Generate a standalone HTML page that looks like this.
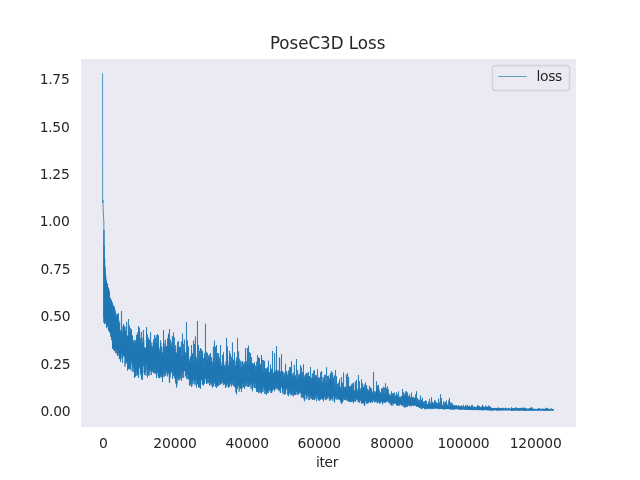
<!DOCTYPE html>
<html lang="en">
<head>
<meta charset="utf-8">
<title>PoseC3D Loss</title>
<style>
html,body{margin:0;padding:0;background:#fff;}
body{width:640px;height:480px;overflow:hidden;}
svg{display:block;}
svg text{font-family:"DejaVu Sans","Liberation Sans",sans-serif;font-size:13.889px;fill:#262626;}
</style>
</head>
<body>
<svg width="640" height="480" viewBox="0 0 640 480">
<rect x="0" y="0" width="640" height="480" fill="#ffffff"/>
<rect x="81" y="59" width="495" height="368" fill="#eaeaf2"/>
<g>
<text x="103.43" y="448.3" text-anchor="middle" letter-spacing="-0.15">0</text>
<text x="175.04" y="448.3" text-anchor="middle" letter-spacing="-0.15">20000</text>
<text x="247.27" y="448.3" text-anchor="middle" letter-spacing="-0.15">40000</text>
<text x="319.28" y="448.3" text-anchor="middle" letter-spacing="-0.15">60000</text>
<text x="392.02" y="448.3" text-anchor="middle" letter-spacing="-0.15">80000</text>
<text x="463.47" y="448.3" text-anchor="middle" letter-spacing="-0.15">100000</text>
<text x="535.68" y="448.3" text-anchor="middle" letter-spacing="-0.15">120000</text>
<text x="70.30" y="415.68" text-anchor="end" letter-spacing="-0.3">0.00</text>
<text x="70.30" y="369.33" text-anchor="end" letter-spacing="-0.3">0.25</text>
<text x="70.30" y="320.98" text-anchor="end" letter-spacing="-0.3">0.50</text>
<text x="70.30" y="273.63" text-anchor="end" letter-spacing="-0.3">0.75</text>
<text x="69.45" y="226.28" text-anchor="end" letter-spacing="-0.3">1.00</text>
<text x="69.45" y="178.93" text-anchor="end" letter-spacing="-0.3">1.25</text>
<text x="69.45" y="131.58" text-anchor="end" letter-spacing="-0.3">1.50</text>
<text x="69.45" y="84.23" text-anchor="end" letter-spacing="-0.3">1.75</text>
<text x="327.1" y="467.4" text-anchor="middle" letter-spacing="-0.3">iter</text>
</g>
<clipPath id="ax"><rect x="81" y="59" width="495" height="368"/></clipPath>
<path clip-path="url(#ax)" d="M102.55 73.70 L102.65 201.60 L102.95 200.40 L102.70 202.60 L103.00 201.20 L102.95 202.80 L103.35 214.00 L103.85 222.00 L103.90 318.00 L103.97 230.00 L104.05 322.68 L104.14 245.75 L104.23 322.37 L104.32 257.66 L104.41 311.50 L104.50 324.00 L104.59 322.27 L104.68 258.61 L104.77 320.89 L104.86 267.61 L104.95 323.46 L105.04 266.82 L105.13 323.51 L105.22 274.67 L105.31 316.20 L105.40 274.91 L105.49 320.53 L105.58 277.50 L105.67 319.91 L105.76 276.23 L105.85 321.10 L105.94 283.61 L106.03 321.60 L106.12 280.32 L106.21 317.56 L106.30 281.28 L106.39 324.52 L106.48 328.00 L106.57 323.19 L106.66 287.02 L106.75 323.00 L106.84 283.08 L106.93 321.19 L107.02 286.33 L107.11 326.99 L107.20 286.99 L107.29 325.00 L107.38 284.31 L107.47 320.40 L107.56 283.84 L107.65 325.20 L107.74 288.88 L107.83 321.44 L107.92 290.88 L108.01 324.49 L108.10 288.95 L108.19 326.09 L108.28 291.80 L108.37 329.07 L108.46 287.58 L108.55 330.84 L108.64 288.42 L108.73 328.58 L108.82 291.15 L108.91 323.47 L109.00 290.84 L109.09 330.50 L109.18 296.77 L109.27 328.87 L109.36 291.73 L109.45 326.94 L109.54 332.50 L109.63 328.01 L109.72 297.15 L109.81 329.42 L109.90 298.36 L109.99 332.19 L110.08 299.22 L110.17 328.35 L110.26 300.59 L110.35 329.39 L110.44 298.49 L110.53 329.98 L110.62 300.91 L110.71 336.63 L110.80 300.78 L110.89 332.50 L110.98 304.06 L111.07 331.99 L111.16 301.29 L111.25 333.07 L111.34 299.77 L111.43 335.53 L111.52 340.00 L111.61 333.26 L111.70 307.15 L111.79 335.43 L111.88 306.57 L111.97 337.10 L112.06 306.58 L112.15 337.07 L112.24 302.54 L112.33 342.07 L112.42 302.69 L112.51 348.75 L112.60 310.17 L112.69 342.46 L112.78 311.18 L112.87 342.20 L112.96 311.78 L113.05 348.29 L113.14 304.89 L113.23 342.97 L113.32 312.28 L113.41 347.05 L113.50 311.86 L113.59 342.36 L113.68 306.39 L113.77 349.43 L113.86 306.31 L113.95 348.84 L114.04 310.86 L114.13 350.84 L114.22 310.88 L114.31 344.11 L114.40 309.41 L114.49 350.99 L114.58 307.67 L114.67 347.74 L114.76 309.92 L114.85 343.52 L114.94 310.76 L115.03 350.89 L115.12 311.40 L115.21 348.06 L115.30 317.20 L115.39 344.74 L115.48 353.00 L115.57 343.91 L115.66 317.30 L115.75 351.53 L115.84 320.74 L115.93 348.57 L116.02 318.70 L116.11 353.21 L116.20 317.57 L116.29 348.64 L116.38 321.78 L116.47 344.93 L116.56 314.10 L116.65 346.89 L116.74 316.48 L116.83 348.90 L116.92 315.99 L117.01 348.74 L117.10 321.91 L117.19 347.80 L117.28 324.76 L117.37 354.56 L117.46 315.55 L117.55 355.57 L117.64 314.30 L117.73 351.61 L117.82 324.82 L117.91 355.95 L118.00 326.21 L118.09 348.78 L118.18 328.93 L118.27 351.68 L118.36 313.08 L118.45 351.67 L118.54 326.95 L118.63 353.70 L118.72 320.24 L118.81 349.68 L118.90 324.85 L118.99 352.75 L119.08 327.45 L119.17 349.60 L119.26 328.36 L119.35 359.17 L119.44 330.15 L119.53 351.62 L119.62 322.38 L119.71 358.01 L119.80 333.06 L119.89 351.97 L119.98 333.78 L120.07 354.53 L120.16 334.85 L120.25 357.41 L120.34 332.42 L120.43 353.62 L120.52 362.00 L120.61 356.00 L120.70 329.97 L120.79 359.48 L120.88 331.65 L120.97 358.40 L121.06 332.29 L121.15 351.83 L121.24 335.68 L121.33 353.93 L121.42 314.04 L121.51 311.00 L121.60 315.60 L121.69 351.17 L121.78 337.06 L121.87 351.78 L121.96 334.25 L122.05 352.72 L122.14 331.93 L122.23 350.95 L122.32 332.68 L122.41 353.80 L122.50 363.00 L122.59 362.81 L122.68 336.99 L122.77 354.38 L122.86 326.61 L122.95 355.35 L123.04 337.72 L123.13 356.58 L123.22 338.37 L123.31 351.67 L123.40 330.11 L123.49 355.57 L123.58 324.00 L123.67 356.04 L123.76 337.58 L123.85 354.82 L123.94 338.37 L124.03 352.71 L124.12 328.96 L124.21 354.01 L124.30 327.77 L124.39 355.52 L124.48 325.99 L124.57 352.64 L124.66 332.44 L124.75 355.91 L124.84 334.62 L124.93 366.68 L125.02 326.96 L125.11 356.97 L125.20 335.38 L125.29 356.01 L125.38 341.23 L125.47 363.39 L125.56 330.44 L125.65 354.60 L125.74 341.78 L125.83 360.27 L125.92 340.33 L126.01 356.59 L126.10 336.65 L126.19 359.87 L126.28 340.12 L126.37 356.50 L126.46 338.01 L126.55 358.87 L126.64 321.92 L126.73 363.00 L126.82 341.62 L126.91 362.09 L127.00 337.05 L127.09 357.44 L127.18 343.08 L127.27 364.32 L127.36 335.49 L127.45 359.19 L127.54 370.60 L127.63 364.96 L127.72 341.12 L127.81 364.57 L127.90 340.44 L127.99 357.21 L128.08 338.60 L128.17 358.07 L128.26 338.51 L128.35 368.00 L128.44 321.13 L128.53 319.00 L128.62 322.78 L128.71 369.39 L128.80 334.55 L128.89 360.31 L128.98 344.22 L129.07 366.77 L129.16 342.44 L129.25 367.99 L129.34 333.35 L129.43 359.41 L129.52 325.75 L129.61 368.84 L129.70 337.42 L129.79 356.75 L129.88 343.09 L129.97 356.50 L130.06 342.33 L130.15 367.26 L130.24 342.22 L130.33 358.38 L130.42 328.24 L130.51 370.00 L130.60 344.23 L130.69 358.32 L130.78 332.22 L130.87 362.14 L130.96 336.05 L131.05 360.97 L131.14 342.25 L131.23 362.08 L131.32 343.67 L131.41 360.99 L131.50 329.39 L131.59 361.58 L131.68 343.12 L131.77 363.16 L131.86 342.48 L131.95 360.04 L132.04 345.36 L132.13 371.26 L132.22 335.65 L132.31 364.20 L132.40 335.68 L132.49 362.84 L132.58 341.98 L132.67 363.15 L132.76 342.99 L132.85 364.05 L132.94 346.85 L133.03 362.52 L133.12 341.88 L133.21 372.13 L133.30 343.02 L133.39 367.35 L133.48 345.85 L133.57 363.99 L133.66 346.54 L133.75 366.23 L133.84 347.16 L133.93 363.69 L134.02 340.34 L134.11 367.67 L134.20 339.82 L134.29 365.35 L134.38 346.50 L134.47 378.00 L134.56 346.35 L134.65 365.83 L134.74 345.50 L134.83 364.55 L134.92 347.53 L135.01 364.79 L135.10 344.79 L135.19 370.72 L135.28 348.80 L135.37 376.87 L135.46 341.88 L135.55 371.79 L135.64 340.40 L135.73 367.08 L135.82 347.91 L135.91 375.62 L136.00 346.72 L136.09 365.98 L136.18 343.31 L136.27 371.42 L136.36 346.62 L136.45 366.98 L136.54 341.61 L136.63 367.13 L136.72 335.07 L136.81 366.12 L136.90 348.74 L136.99 375.84 L137.08 334.84 L137.17 368.06 L137.26 349.23 L137.35 369.32 L137.44 349.21 L137.53 369.21 L137.62 332.53 L137.71 374.60 L137.80 347.73 L137.89 374.15 L137.98 344.40 L138.07 366.83 L138.16 348.19 L138.25 367.49 L138.34 349.93 L138.43 366.49 L138.52 326.00 L138.61 378.00 L138.70 349.35 L138.79 365.98 L138.88 340.10 L138.97 365.40 L139.06 346.78 L139.15 365.88 L139.24 347.27 L139.33 368.34 L139.42 327.71 L139.51 366.02 L139.60 330.88 L139.69 363.97 L139.78 337.57 L139.87 365.92 L139.96 338.51 L140.05 366.79 L140.14 350.11 L140.23 364.29 L140.32 351.14 L140.41 373.15 L140.50 351.14 L140.59 370.38 L140.68 346.55 L140.77 369.06 L140.86 341.88 L140.95 375.06 L141.04 338.64 L141.13 367.79 L141.22 348.92 L141.31 375.19 L141.40 332.11 L141.49 371.07 L141.58 349.65 L141.67 379.51 L141.76 348.58 L141.85 373.43 L141.94 349.45 L142.03 369.12 L142.12 343.99 L142.21 377.78 L142.30 342.64 L142.39 379.47 L142.48 380.00 L142.57 377.22 L142.66 350.49 L142.75 364.86 L142.84 346.13 L142.93 364.51 L143.02 338.00 L143.11 365.17 L143.20 349.27 L143.29 366.25 L143.38 330.03 L143.47 364.76 L143.56 336.70 L143.65 364.32 L143.74 340.24 L143.83 365.88 L143.92 348.02 L144.01 363.59 L144.10 347.11 L144.19 372.93 L144.28 347.84 L144.37 368.90 L144.46 375.00 L144.55 365.61 L144.64 348.28 L144.73 364.23 L144.82 347.53 L144.91 364.26 L145.00 348.13 L145.09 372.67 L145.18 350.94 L145.27 366.25 L145.36 347.87 L145.45 371.52 L145.54 351.13 L145.63 363.57 L145.72 348.10 L145.81 364.57 L145.90 348.80 L145.99 375.62 L146.08 348.61 L146.17 363.92 L146.26 347.97 L146.35 363.78 L146.44 349.56 L146.53 327.00 L146.62 352.36 L146.71 363.87 L146.80 339.63 L146.89 366.45 L146.98 349.10 L147.07 364.22 L147.16 348.33 L147.25 370.16 L147.34 334.25 L147.43 365.60 L147.52 377.50 L147.61 370.72 L147.70 349.30 L147.79 367.95 L147.88 348.56 L147.97 373.56 L148.06 341.15 L148.15 364.53 L148.24 352.76 L148.33 375.55 L148.42 337.59 L148.51 364.27 L148.60 352.70 L148.69 371.68 L148.78 340.86 L148.87 370.82 L148.96 344.25 L149.05 367.10 L149.14 348.88 L149.23 368.49 L149.32 350.89 L149.41 365.70 L149.50 339.75 L149.59 367.72 L149.68 348.53 L149.77 375.35 L149.86 340.91 L149.95 366.97 L150.04 349.62 L150.13 365.12 L150.22 346.75 L150.31 371.18 L150.40 352.57 L150.49 367.06 L150.58 332.25 L150.67 363.64 L150.76 353.06 L150.85 364.51 L150.94 351.92 L151.03 370.60 L151.12 345.90 L151.21 363.57 L151.30 352.37 L151.39 364.05 L151.48 375.00 L151.57 365.88 L151.66 352.34 L151.75 365.09 L151.84 342.47 L151.93 370.65 L152.02 347.89 L152.11 362.76 L152.20 349.53 L152.29 366.61 L152.38 350.52 L152.47 372.14 L152.56 352.45 L152.65 366.23 L152.74 346.68 L152.83 369.84 L152.92 349.19 L153.01 365.86 L153.10 351.02 L153.19 370.03 L153.28 345.65 L153.37 365.56 L153.46 372.50 L153.55 364.18 L153.64 339.42 L153.73 365.31 L153.82 348.50 L153.91 365.88 L154.00 352.26 L154.09 373.31 L154.18 342.57 L154.27 364.58 L154.36 347.01 L154.45 365.67 L154.54 335.23 L154.63 365.70 L154.72 344.57 L154.81 373.08 L154.90 346.16 L154.99 366.16 L155.08 347.25 L155.17 364.03 L155.26 344.25 L155.35 364.51 L155.44 351.74 L155.53 373.06 L155.62 337.68 L155.71 374.09 L155.80 349.82 L155.89 365.41 L155.98 353.24 L156.07 365.24 L156.16 342.98 L156.25 370.58 L156.34 335.34 L156.43 369.67 L156.52 378.00 L156.61 371.73 L156.70 351.50 L156.79 367.42 L156.88 347.59 L156.97 371.23 L157.06 352.74 L157.15 373.08 L157.24 342.58 L157.33 370.28 L157.42 340.14 L157.51 334.00 L157.60 339.29 L157.69 372.19 L157.78 343.49 L157.87 367.72 L157.96 349.68 L158.05 367.07 L158.14 350.81 L158.23 376.22 L158.32 344.94 L158.41 366.53 L158.50 335.33 L158.59 375.04 L158.68 354.33 L158.77 377.57 L158.86 351.10 L158.95 377.85 L159.04 347.87 L159.13 370.51 L159.22 354.96 L159.31 367.97 L159.40 351.99 L159.49 378.16 L159.58 351.29 L159.67 376.52 L159.76 353.14 L159.85 370.46 L159.94 351.81 L160.03 367.63 L160.12 349.78 L160.21 371.50 L160.30 354.57 L160.39 375.70 L160.48 340.43 L160.57 368.38 L160.66 355.60 L160.75 374.35 L160.84 342.92 L160.93 377.38 L161.02 354.77 L161.11 368.30 L161.20 352.97 L161.29 371.48 L161.38 355.74 L161.47 372.31 L161.56 351.57 L161.65 377.03 L161.74 346.56 L161.83 369.41 L161.92 353.22 L162.01 368.57 L162.10 353.98 L162.19 372.60 L162.28 352.69 L162.37 372.32 L162.46 382.00 L162.55 381.34 L162.64 352.99 L162.73 377.61 L162.82 353.67 L162.91 374.60 L163.00 354.80 L163.09 368.16 L163.18 353.96 L163.27 370.81 L163.36 347.31 L163.45 367.69 L163.54 330.00 L163.63 367.93 L163.72 352.66 L163.81 375.41 L163.90 350.95 L163.99 368.18 L164.08 354.68 L164.17 368.47 L164.26 343.33 L164.35 376.81 L164.44 352.16 L164.53 368.17 L164.62 349.38 L164.71 367.05 L164.80 351.71 L164.89 366.20 L164.98 353.75 L165.07 368.79 L165.16 347.61 L165.25 365.79 L165.34 339.72 L165.43 371.81 L165.52 376.00 L165.61 373.98 L165.70 346.68 L165.79 372.52 L165.88 351.60 L165.97 365.89 L166.06 354.77 L166.15 372.38 L166.24 353.62 L166.33 366.60 L166.42 346.48 L166.51 370.44 L166.60 345.91 L166.69 369.15 L166.78 354.43 L166.87 367.53 L166.96 350.85 L167.05 367.72 L167.14 348.53 L167.23 374.92 L167.32 346.97 L167.41 370.52 L167.50 338.41 L167.59 376.45 L167.68 354.82 L167.77 367.43 L167.86 356.35 L167.95 371.20 L168.04 348.25 L168.13 373.25 L168.22 355.92 L168.31 369.95 L168.40 335.13 L168.49 371.69 L168.58 333.73 L168.67 369.61 L168.76 352.86 L168.85 372.96 L168.94 356.32 L169.03 368.93 L169.12 345.18 L169.21 374.64 L169.30 350.82 L169.39 382.12 L169.48 329.00 L169.57 383.00 L169.66 355.32 L169.75 376.81 L169.84 347.94 L169.93 377.82 L170.02 356.19 L170.11 368.97 L170.20 349.64 L170.29 371.50 L170.38 339.64 L170.47 370.09 L170.56 357.24 L170.65 371.64 L170.74 354.30 L170.83 371.41 L170.92 347.31 L171.01 373.19 L171.10 344.93 L171.19 369.51 L171.28 354.59 L171.37 368.50 L171.46 348.56 L171.55 368.94 L171.64 342.39 L171.73 371.18 L171.82 355.90 L171.91 371.23 L172.00 355.84 L172.09 368.12 L172.18 355.16 L172.27 368.40 L172.36 336.24 L172.45 370.15 L172.54 378.75 L172.63 368.06 L172.72 353.23 L172.81 369.29 L172.90 347.72 L172.99 371.51 L173.08 346.41 L173.17 372.29 L173.26 356.12 L173.35 372.40 L173.44 340.39 L173.53 332.50 L173.62 355.15 L173.71 375.87 L173.80 356.33 L173.89 370.19 L173.98 356.29 L174.07 369.63 L174.16 349.11 L174.25 375.46 L174.34 337.41 L174.43 378.26 L174.52 352.86 L174.61 373.74 L174.70 356.69 L174.79 375.28 L174.88 352.02 L174.97 370.45 L175.06 358.37 L175.15 371.00 L175.24 357.49 L175.33 370.55 L175.42 356.90 L175.51 382.00 L175.60 345.21 L175.69 381.13 L175.78 358.32 L175.87 372.63 L175.96 352.51 L176.05 383.97 L176.14 356.41 L176.23 380.47 L176.32 360.15 L176.41 375.68 L176.50 387.50 L176.59 384.23 L176.68 353.27 L176.77 385.48 L176.86 361.16 L176.95 383.38 L177.04 352.62 L177.13 376.95 L177.22 357.21 L177.31 374.54 L177.40 347.81 L177.49 373.34 L177.58 342.18 L177.67 374.47 L177.76 357.98 L177.85 372.88 L177.94 353.06 L178.03 375.80 L178.12 360.58 L178.21 374.77 L178.30 357.74 L178.39 379.45 L178.48 341.00 L178.57 377.39 L178.66 349.31 L178.75 376.16 L178.84 359.41 L178.93 379.54 L179.02 356.36 L179.11 373.46 L179.20 359.17 L179.29 380.44 L179.38 346.84 L179.47 378.39 L179.56 359.23 L179.65 376.21 L179.74 349.16 L179.83 371.30 L179.92 357.97 L180.01 372.42 L180.10 349.64 L180.19 372.37 L180.28 353.86 L180.37 374.89 L180.46 346.77 L180.55 371.47 L180.64 355.55 L180.73 376.69 L180.82 359.48 L180.91 379.12 L181.00 356.85 L181.09 373.69 L181.18 358.73 L181.27 372.21 L181.36 341.56 L181.45 378.48 L181.54 381.00 L181.63 370.85 L181.72 357.96 L181.81 370.14 L181.90 359.47 L181.99 369.85 L182.08 360.02 L182.17 378.02 L182.26 357.10 L182.35 369.62 L182.44 342.20 L182.53 333.75 L182.62 341.47 L182.71 371.50 L182.80 359.27 L182.89 372.80 L182.98 355.29 L183.07 372.35 L183.16 359.26 L183.25 369.84 L183.34 343.90 L183.43 368.89 L183.52 358.33 L183.61 377.91 L183.70 355.72 L183.79 368.74 L183.88 354.14 L183.97 368.48 L184.06 358.36 L184.15 368.56 L184.24 357.94 L184.33 371.11 L184.42 339.68 L184.51 368.93 L184.60 349.62 L184.69 367.93 L184.78 357.73 L184.87 368.72 L184.96 359.55 L185.05 370.87 L185.14 353.32 L185.23 370.16 L185.32 356.09 L185.41 369.25 L185.50 376.00 L185.59 372.78 L185.68 352.39 L185.77 368.70 L185.86 359.40 L185.95 376.81 L186.04 353.97 L186.13 369.46 L186.22 360.03 L186.31 369.80 L186.40 357.46 L186.49 322.00 L186.58 336.29 L186.67 373.16 L186.76 360.35 L186.85 379.15 L186.94 360.82 L187.03 372.13 L187.12 358.32 L187.21 373.51 L187.30 360.58 L187.39 373.80 L187.48 340.60 L187.57 371.15 L187.66 357.52 L187.75 378.84 L187.84 357.02 L187.93 372.71 L188.02 353.35 L188.11 373.78 L188.20 353.14 L188.29 374.11 L188.38 348.74 L188.47 373.12 L188.56 346.40 L188.65 378.70 L188.74 363.20 L188.83 376.80 L188.92 361.36 L189.01 375.42 L189.10 361.36 L189.19 380.14 L189.28 364.17 L189.37 376.32 L189.46 385.60 L189.55 378.56 L189.64 363.63 L189.73 378.79 L189.82 360.90 L189.91 375.70 L190.00 358.63 L190.09 383.71 L190.18 361.45 L190.27 377.69 L190.36 363.33 L190.45 378.51 L190.54 356.31 L190.63 375.06 L190.72 363.96 L190.81 377.87 L190.90 359.79 L190.99 385.55 L191.08 364.65 L191.17 383.81 L191.26 364.30 L191.35 378.63 L191.44 353.18 L191.53 345.00 L191.62 387.00 L191.71 378.92 L191.80 362.76 L191.89 385.67 L191.98 356.75 L192.07 378.50 L192.16 358.21 L192.25 378.35 L192.34 353.51 L192.43 378.07 L192.52 353.72 L192.61 381.75 L192.70 355.80 L192.79 383.58 L192.88 365.36 L192.97 378.58 L193.06 366.15 L193.15 379.80 L193.24 362.78 L193.33 379.29 L193.42 352.78 L193.51 340.60 L193.60 348.66 L193.69 378.52 L193.78 362.91 L193.87 377.43 L193.96 365.16 L194.05 377.24 L194.14 365.97 L194.23 384.11 L194.32 364.27 L194.41 378.75 L194.50 344.06 L194.59 380.04 L194.68 361.15 L194.77 379.78 L194.86 364.82 L194.95 378.49 L195.04 357.78 L195.13 385.13 L195.22 361.40 L195.31 377.39 L195.40 336.48 L195.49 377.48 L195.58 354.67 L195.67 379.20 L195.76 360.30 L195.85 380.27 L195.94 366.69 L196.03 379.09 L196.12 362.95 L196.21 380.64 L196.30 357.46 L196.39 387.13 L196.48 387.50 L196.57 378.98 L196.66 366.96 L196.75 379.94 L196.84 363.35 L196.93 379.80 L197.02 365.64 L197.11 379.27 L197.20 365.38 L197.29 377.82 L197.38 366.50 L197.47 321.00 L197.56 364.64 L197.65 384.08 L197.74 362.44 L197.83 384.31 L197.92 360.02 L198.01 378.39 L198.10 367.13 L198.19 380.06 L198.28 366.45 L198.37 380.55 L198.46 345.00 L198.55 387.31 L198.64 366.81 L198.73 387.06 L198.82 360.01 L198.91 378.08 L199.00 363.52 L199.09 382.31 L199.18 363.03 L199.27 387.66 L199.36 360.71 L199.45 377.61 L199.54 350.73 L199.63 379.06 L199.72 367.19 L199.81 380.18 L199.90 357.81 L199.99 377.90 L200.08 362.52 L200.17 385.31 L200.26 363.02 L200.35 385.35 L200.44 348.12 L200.53 388.75 L200.62 367.96 L200.71 379.77 L200.80 366.19 L200.89 380.13 L200.98 367.01 L201.07 378.00 L201.16 366.76 L201.25 378.23 L201.34 351.07 L201.43 379.96 L201.52 349.00 L201.61 378.54 L201.70 360.84 L201.79 378.03 L201.88 367.16 L201.97 378.02 L202.06 361.42 L202.15 379.71 L202.24 361.87 L202.33 384.39 L202.42 353.09 L202.51 379.23 L202.60 351.07 L202.69 377.37 L202.78 357.83 L202.87 383.12 L202.96 366.20 L203.05 384.96 L203.14 366.83 L203.23 381.99 L203.32 365.29 L203.41 383.82 L203.50 385.60 L203.59 376.29 L203.68 358.06 L203.77 382.73 L203.86 367.69 L203.95 377.40 L204.04 367.70 L204.13 375.91 L204.22 366.34 L204.31 376.42 L204.40 357.55 L204.49 383.79 L204.58 353.51 L204.67 377.60 L204.76 360.15 L204.85 376.79 L204.94 367.20 L205.03 376.33 L205.12 361.83 L205.21 375.90 L205.30 366.94 L205.39 377.22 L205.48 323.75 L205.57 378.16 L205.66 366.75 L205.75 375.56 L205.84 359.23 L205.93 379.14 L206.02 366.58 L206.11 375.16 L206.20 365.49 L206.29 381.52 L206.38 359.14 L206.47 383.75 L206.56 351.82 L206.65 378.45 L206.74 361.94 L206.83 383.84 L206.92 367.65 L207.01 380.07 L207.10 365.72 L207.19 379.40 L207.28 366.38 L207.37 377.63 L207.46 353.00 L207.55 376.96 L207.64 360.05 L207.73 381.88 L207.82 363.45 L207.91 378.16 L208.00 365.20 L208.09 382.76 L208.18 366.46 L208.27 383.26 L208.36 358.02 L208.45 378.30 L208.54 355.66 L208.63 376.78 L208.72 366.00 L208.81 378.07 L208.90 365.78 L208.99 378.77 L209.08 362.78 L209.17 377.20 L209.26 360.57 L209.35 377.13 L209.44 354.66 L209.53 385.60 L209.62 358.19 L209.71 380.51 L209.80 368.73 L209.89 379.93 L209.98 364.37 L210.07 384.55 L210.16 364.65 L210.25 379.69 L210.34 367.23 L210.43 378.67 L210.52 353.00 L210.61 378.42 L210.70 362.86 L210.79 381.77 L210.88 367.56 L210.97 379.52 L211.06 368.59 L211.15 381.88 L211.24 363.78 L211.33 384.47 L211.42 366.49 L211.51 378.82 L211.60 357.21 L211.69 380.70 L211.78 368.34 L211.87 378.02 L211.96 361.08 L212.05 385.11 L212.14 367.99 L212.23 387.09 L212.32 368.24 L212.41 381.98 L212.50 387.50 L212.59 384.87 L212.68 368.37 L212.77 378.62 L212.86 362.48 L212.95 382.09 L213.04 362.00 L213.13 379.38 L213.22 365.02 L213.31 379.40 L213.40 346.64 L213.49 386.13 L213.58 358.45 L213.67 382.35 L213.76 367.00 L213.85 380.38 L213.94 370.21 L214.03 379.41 L214.12 368.54 L214.21 380.25 L214.30 367.57 L214.39 381.25 L214.48 340.60 L214.57 381.51 L214.66 369.05 L214.75 383.68 L214.84 365.23 L214.93 379.46 L215.02 368.62 L215.11 381.05 L215.20 361.58 L215.29 386.64 L215.38 367.86 L215.47 383.54 L215.56 346.91 L215.65 380.10 L215.74 362.65 L215.83 380.00 L215.92 370.13 L216.01 386.27 L216.10 369.91 L216.19 379.33 L216.28 365.00 L216.37 379.00 L216.46 345.00 L216.55 388.00 L216.64 358.60 L216.73 378.42 L216.82 370.07 L216.91 386.28 L217.00 365.99 L217.09 380.10 L217.18 364.74 L217.27 385.78 L217.36 355.93 L217.45 385.61 L217.54 353.23 L217.63 380.15 L217.72 366.89 L217.81 385.87 L217.90 367.85 L217.99 379.20 L218.08 369.36 L218.17 380.61 L218.26 366.61 L218.35 386.21 L218.44 368.73 L218.53 377.40 L218.62 353.21 L218.71 378.36 L218.80 364.57 L218.89 381.00 L218.98 367.55 L219.07 384.97 L219.16 361.05 L219.25 378.20 L219.34 357.54 L219.43 379.99 L219.52 359.15 L219.61 377.07 L219.70 364.82 L219.79 379.03 L219.88 367.45 L219.97 383.06 L220.06 366.85 L220.15 384.56 L220.24 368.99 L220.33 377.65 L220.42 367.05 L220.51 345.00 L220.60 384.40 L220.69 376.54 L220.78 366.53 L220.87 379.22 L220.96 361.94 L221.05 380.01 L221.14 368.22 L221.23 378.14 L221.32 366.45 L221.41 378.14 L221.50 368.94 L221.59 383.68 L221.68 368.10 L221.77 379.10 L221.86 367.72 L221.95 378.43 L222.04 365.28 L222.13 383.02 L222.22 368.94 L222.31 379.58 L222.40 367.98 L222.49 355.00 L222.58 366.94 L222.67 378.85 L222.76 366.76 L222.85 381.54 L222.94 367.51 L223.03 378.17 L223.12 369.54 L223.21 378.68 L223.30 366.95 L223.39 385.21 L223.48 352.33 L223.57 382.31 L223.66 363.12 L223.75 380.21 L223.84 364.41 L223.93 381.39 L224.02 369.71 L224.11 380.87 L224.20 368.57 L224.29 384.37 L224.38 369.37 L224.47 378.63 L224.56 366.39 L224.65 383.01 L224.74 369.73 L224.83 379.97 L224.92 365.16 L225.01 383.13 L225.10 370.12 L225.19 384.18 L225.28 367.80 L225.37 378.53 L225.46 388.00 L225.55 379.78 L225.64 370.14 L225.73 386.00 L225.82 367.81 L225.91 380.80 L226.00 361.01 L226.09 379.13 L226.18 367.13 L226.27 384.42 L226.36 369.28 L226.45 378.44 L226.54 338.00 L226.63 378.66 L226.72 369.61 L226.81 386.51 L226.90 367.72 L226.99 379.36 L227.08 367.14 L227.17 379.32 L227.26 367.68 L227.35 384.20 L227.44 346.52 L227.53 378.69 L227.62 355.97 L227.71 383.66 L227.80 365.32 L227.89 378.29 L227.98 364.92 L228.07 381.98 L228.16 369.09 L228.25 386.53 L228.34 369.32 L228.43 384.16 L228.52 387.50 L228.61 379.24 L228.70 369.16 L228.79 384.75 L228.88 366.55 L228.97 379.41 L229.06 369.86 L229.15 387.23 L229.24 361.08 L229.33 386.16 L229.42 369.89 L229.51 380.54 L229.60 351.06 L229.69 378.43 L229.78 365.61 L229.87 380.26 L229.96 368.44 L230.05 380.19 L230.14 369.54 L230.23 379.01 L230.32 362.00 L230.41 379.09 L230.50 354.00 L230.59 379.56 L230.68 364.80 L230.77 383.40 L230.86 361.68 L230.95 383.10 L231.04 369.49 L231.13 385.25 L231.22 368.35 L231.31 378.79 L231.40 368.41 L231.49 386.61 L231.58 356.91 L231.67 383.14 L231.76 369.31 L231.85 380.71 L231.94 367.85 L232.03 377.72 L232.12 365.54 L232.21 383.92 L232.30 368.54 L232.39 384.68 L232.48 342.50 L232.57 380.34 L232.66 367.74 L232.75 378.93 L232.84 361.40 L232.93 377.80 L233.02 368.50 L233.11 379.46 L233.20 368.67 L233.29 379.64 L233.38 368.37 L233.47 386.25 L233.56 359.68 L233.65 379.60 L233.74 361.32 L233.83 379.92 L233.92 369.71 L234.01 378.62 L234.10 368.02 L234.19 379.37 L234.28 369.88 L234.37 382.21 L234.46 352.50 L234.55 380.34 L234.64 369.14 L234.73 385.86 L234.82 370.64 L234.91 382.34 L235.00 367.88 L235.09 387.48 L235.18 368.78 L235.27 384.59 L235.36 365.46 L235.45 387.19 L235.54 367.46 L235.63 382.92 L235.72 371.00 L235.81 392.35 L235.90 372.10 L235.99 382.50 L236.08 361.02 L236.17 387.57 L236.26 371.11 L236.35 383.53 L236.44 360.14 L236.53 394.40 L236.62 357.58 L236.71 384.15 L236.80 370.77 L236.89 385.70 L236.98 372.55 L237.07 384.75 L237.16 363.94 L237.25 385.03 L237.34 364.59 L237.43 389.17 L237.52 338.00 L237.61 382.47 L237.70 362.08 L237.79 385.51 L237.88 370.30 L237.97 383.22 L238.06 367.50 L238.15 384.46 L238.24 372.28 L238.33 386.12 L238.42 363.11 L238.51 383.08 L238.60 351.41 L238.69 385.57 L238.78 370.38 L238.87 384.75 L238.96 369.33 L239.05 383.79 L239.14 365.17 L239.23 391.63 L239.32 369.98 L239.41 387.60 L239.50 358.75 L239.59 384.99 L239.68 370.81 L239.77 382.94 L239.86 369.49 L239.95 382.92 L240.04 370.98 L240.13 387.79 L240.22 370.85 L240.31 384.87 L240.40 360.62 L240.49 383.34 L240.58 366.93 L240.67 381.95 L240.76 370.85 L240.85 388.81 L240.94 372.23 L241.03 388.43 L241.12 367.06 L241.21 387.43 L241.30 369.14 L241.39 385.05 L241.48 392.00 L241.57 384.40 L241.66 371.20 L241.75 383.79 L241.84 361.97 L241.93 388.30 L242.02 368.79 L242.11 383.28 L242.20 369.05 L242.29 383.15 L242.38 361.17 L242.47 362.50 L242.56 361.22 L242.65 380.82 L242.74 370.93 L242.83 382.01 L242.92 371.69 L243.01 382.71 L243.10 369.59 L243.19 387.19 L243.28 371.67 L243.37 381.90 L243.46 369.04 L243.55 381.16 L243.64 364.07 L243.73 382.66 L243.82 366.19 L243.91 387.42 L244.00 368.53 L244.09 385.83 L244.18 361.90 L244.27 380.45 L244.36 368.92 L244.45 385.14 L244.54 388.75 L244.63 381.07 L244.72 369.24 L244.81 383.13 L244.90 363.53 L244.99 380.04 L245.08 365.47 L245.17 379.82 L245.26 364.37 L245.35 380.48 L245.44 368.09 L245.53 348.00 L245.62 366.74 L245.71 386.45 L245.80 368.90 L245.89 382.31 L245.98 371.72 L246.07 380.76 L246.16 367.89 L246.25 379.42 L246.34 361.23 L246.43 384.28 L246.52 371.10 L246.61 379.47 L246.70 365.54 L246.79 380.26 L246.88 364.28 L246.97 386.09 L247.06 369.15 L247.15 380.24 L247.24 363.62 L247.33 380.78 L247.42 347.93 L247.51 380.87 L247.60 356.08 L247.69 381.23 L247.78 365.87 L247.87 387.00 L247.96 365.35 L248.05 379.31 L248.14 370.13 L248.23 379.31 L248.32 367.93 L248.41 380.83 L248.50 345.60 L248.59 387.00 L248.68 371.01 L248.77 379.04 L248.86 371.18 L248.95 380.60 L249.04 371.66 L249.13 382.06 L249.22 369.83 L249.31 381.62 L249.40 352.02 L249.49 380.91 L249.58 368.77 L249.67 385.27 L249.76 365.76 L249.85 381.29 L249.94 368.83 L250.03 386.74 L250.12 364.31 L250.21 380.80 L250.30 372.56 L250.39 382.01 L250.48 353.00 L250.57 382.42 L250.66 371.14 L250.75 383.60 L250.84 364.10 L250.93 381.48 L251.02 367.59 L251.11 388.96 L251.20 369.42 L251.29 383.74 L251.38 362.81 L251.47 383.14 L251.56 357.26 L251.65 383.00 L251.74 370.86 L251.83 383.31 L251.92 364.79 L252.01 382.81 L252.10 369.22 L252.19 384.76 L252.28 371.52 L252.37 382.47 L252.46 391.25 L252.55 387.62 L252.64 362.96 L252.73 383.49 L252.82 365.47 L252.91 385.77 L253.00 373.52 L253.09 387.89 L253.18 367.56 L253.27 381.37 L253.36 370.26 L253.45 381.03 L253.54 363.75 L253.63 382.14 L253.72 372.67 L253.81 382.10 L253.90 370.69 L253.99 381.64 L254.08 368.76 L254.17 381.57 L254.26 370.42 L254.35 382.03 L254.44 362.40 L254.53 388.00 L254.62 366.17 L254.71 380.40 L254.80 372.76 L254.89 382.38 L254.98 371.66 L255.07 383.67 L255.16 365.14 L255.25 381.15 L255.34 372.29 L255.43 382.87 L255.52 372.75 L255.61 383.18 L255.70 371.69 L255.79 388.14 L255.88 374.19 L255.97 382.36 L256.06 367.25 L256.15 382.68 L256.24 372.54 L256.33 389.19 L256.42 374.09 L256.51 392.00 L256.60 361.82 L256.69 386.04 L256.78 368.98 L256.87 383.93 L256.96 373.68 L257.05 385.66 L257.14 372.30 L257.23 389.32 L257.32 366.59 L257.41 391.87 L257.50 355.00 L257.59 385.09 L257.68 374.22 L257.77 383.90 L257.86 373.70 L257.95 384.14 L258.04 374.33 L258.13 384.28 L258.22 369.65 L258.31 385.66 L258.40 357.52 L258.49 392.56 L258.58 359.26 L258.67 387.79 L258.76 368.21 L258.85 392.34 L258.94 365.96 L259.03 392.75 L259.12 369.11 L259.21 386.84 L259.30 371.22 L259.39 384.41 L259.48 358.04 L259.57 386.00 L259.66 374.46 L259.75 386.09 L259.84 369.54 L259.93 388.19 L260.02 372.71 L260.11 385.58 L260.20 367.64 L260.29 392.62 L260.38 364.47 L260.47 388.69 L260.56 364.56 L260.65 389.56 L260.74 373.58 L260.83 390.82 L260.92 375.23 L261.01 389.91 L261.10 373.41 L261.19 386.78 L261.28 373.20 L261.37 387.45 L261.46 355.00 L261.55 393.75 L261.64 358.03 L261.73 385.97 L261.82 375.33 L261.91 390.60 L262.00 373.25 L262.09 387.32 L262.18 370.44 L262.27 385.91 L262.36 360.12 L262.45 391.70 L262.54 371.46 L262.63 385.07 L262.72 374.87 L262.81 387.05 L262.90 376.52 L262.99 391.76 L263.08 375.42 L263.17 387.39 L263.26 374.55 L263.35 387.17 L263.44 375.60 L263.53 386.03 L263.62 360.09 L263.71 385.24 L263.80 374.58 L263.89 385.95 L263.98 370.43 L264.07 385.89 L264.16 375.58 L264.25 389.55 L264.34 365.19 L264.43 385.56 L264.52 361.00 L264.61 385.53 L264.70 377.00 L264.79 393.94 L264.88 372.00 L264.97 387.42 L265.06 375.55 L265.15 387.25 L265.24 375.59 L265.33 385.43 L265.42 375.37 L265.51 390.04 L265.60 368.27 L265.69 393.48 L265.78 373.81 L265.87 386.31 L265.96 376.78 L266.05 388.83 L266.14 377.19 L266.23 393.37 L266.32 374.07 L266.41 387.67 L266.50 395.00 L266.59 386.96 L266.68 369.06 L266.77 390.33 L266.86 369.33 L266.95 390.73 L267.04 367.96 L267.13 385.47 L267.22 373.51 L267.31 387.14 L267.40 377.16 L267.49 385.57 L267.58 367.09 L267.67 392.95 L267.76 377.32 L267.85 388.40 L267.94 376.37 L268.03 390.43 L268.12 372.68 L268.21 386.08 L268.30 374.86 L268.39 393.08 L268.48 360.60 L268.57 386.44 L268.66 374.21 L268.75 387.29 L268.84 371.58 L268.93 386.29 L269.02 376.07 L269.11 390.61 L269.20 375.49 L269.29 386.10 L269.38 373.14 L269.47 388.81 L269.56 376.90 L269.65 385.79 L269.74 372.01 L269.83 387.33 L269.92 375.98 L270.01 386.41 L270.10 376.71 L270.19 391.36 L270.28 377.22 L270.37 389.71 L270.46 364.64 L270.55 384.78 L270.64 367.91 L270.73 386.18 L270.82 371.47 L270.91 387.60 L271.00 375.34 L271.09 392.88 L271.18 368.80 L271.27 391.11 L271.36 376.67 L271.45 386.25 L271.54 393.00 L271.63 391.99 L271.72 374.66 L271.81 392.29 L271.90 375.59 L271.99 389.44 L272.08 369.22 L272.17 384.54 L272.26 375.38 L272.35 390.61 L272.44 365.38 L272.53 351.00 L272.62 364.71 L272.71 388.41 L272.80 372.53 L272.89 385.04 L272.98 375.45 L273.07 389.17 L273.16 372.71 L273.25 385.76 L273.34 375.64 L273.43 388.00 L273.52 373.06 L273.61 386.21 L273.70 376.20 L273.79 387.32 L273.88 375.09 L273.97 389.86 L274.06 375.29 L274.15 386.17 L274.24 376.27 L274.33 385.01 L274.42 376.31 L274.51 391.25 L274.60 353.24 L274.69 385.58 L274.78 371.90 L274.87 384.45 L274.96 375.05 L275.05 383.98 L275.14 374.86 L275.23 389.49 L275.32 373.08 L275.41 384.21 L275.50 375.58 L275.59 384.05 L275.68 375.31 L275.77 385.75 L275.86 371.29 L275.95 385.59 L276.04 370.40 L276.13 388.78 L276.22 375.39 L276.31 385.61 L276.40 369.12 L276.49 346.25 L276.58 357.06 L276.67 385.07 L276.76 375.52 L276.85 387.94 L276.94 376.62 L277.03 384.28 L277.12 369.93 L277.21 388.55 L277.30 374.85 L277.39 387.80 L277.48 373.45 L277.57 385.13 L277.66 372.40 L277.75 388.23 L277.84 376.37 L277.93 386.00 L278.02 372.49 L278.11 389.61 L278.20 371.36 L278.29 383.98 L278.38 375.12 L278.47 390.60 L278.56 375.67 L278.65 385.21 L278.74 376.11 L278.83 384.81 L278.92 370.45 L279.01 384.78 L279.10 376.31 L279.19 389.89 L279.28 375.99 L279.37 386.08 L279.46 357.50 L279.55 389.75 L279.64 358.58 L279.73 385.78 L279.82 376.10 L279.91 385.80 L280.00 375.33 L280.09 392.11 L280.18 377.00 L280.27 385.89 L280.36 372.85 L280.45 387.75 L280.54 393.00 L280.63 387.91 L280.72 376.00 L280.81 387.87 L280.90 371.49 L280.99 386.28 L281.08 376.04 L281.17 387.68 L281.26 373.91 L281.35 386.39 L281.44 362.22 L281.53 354.40 L281.62 375.19 L281.71 386.81 L281.80 371.11 L281.89 386.85 L281.98 371.47 L282.07 386.85 L282.16 377.43 L282.25 385.97 L282.34 377.36 L282.43 388.56 L282.52 378.77 L282.61 392.55 L282.70 371.39 L282.79 389.67 L282.88 378.17 L282.97 388.20 L283.06 377.95 L283.15 394.12 L283.24 376.54 L283.33 388.00 L283.42 378.92 L283.51 389.11 L283.60 378.16 L283.69 388.13 L283.78 372.46 L283.87 387.45 L283.96 379.12 L284.05 387.21 L284.14 378.99 L284.23 387.65 L284.32 376.88 L284.41 392.61 L284.50 395.00 L284.59 389.29 L284.68 378.46 L284.77 389.68 L284.86 373.76 L284.95 389.15 L285.04 375.49 L285.13 393.12 L285.22 373.15 L285.31 387.01 L285.40 374.02 L285.49 363.75 L285.58 365.54 L285.67 393.63 L285.76 374.54 L285.85 388.63 L285.94 377.13 L286.03 387.83 L286.12 378.34 L286.21 387.31 L286.30 377.90 L286.39 389.21 L286.48 371.04 L286.57 387.58 L286.66 371.13 L286.75 389.22 L286.84 373.94 L286.93 389.21 L287.02 378.72 L287.11 388.96 L287.20 378.69 L287.29 388.68 L287.38 379.09 L287.47 389.42 L287.56 377.49 L287.65 387.98 L287.74 379.64 L287.83 394.77 L287.92 374.44 L288.01 388.21 L288.10 379.89 L288.19 395.61 L288.28 377.67 L288.37 387.86 L288.46 396.25 L288.55 387.85 L288.64 370.46 L288.73 390.59 L288.82 377.49 L288.91 394.22 L289.00 380.27 L289.09 387.88 L289.18 377.60 L289.27 388.42 L289.36 379.95 L289.45 392.55 L289.54 367.00 L289.63 390.30 L289.72 373.40 L289.81 388.98 L289.90 379.73 L289.99 390.06 L290.08 378.62 L290.17 393.12 L290.26 374.71 L290.35 389.82 L290.44 367.11 L290.53 388.41 L290.62 373.30 L290.71 390.89 L290.80 379.12 L290.89 395.23 L290.98 377.12 L291.07 393.79 L291.16 374.84 L291.25 390.59 L291.34 380.41 L291.43 390.70 L291.52 361.25 L291.61 394.15 L291.70 374.28 L291.79 389.01 L291.88 378.84 L291.97 390.46 L292.06 378.11 L292.15 389.55 L292.24 373.62 L292.33 395.65 L292.42 378.31 L292.51 390.19 L292.60 380.32 L292.69 390.94 L292.78 380.38 L292.87 388.80 L292.96 376.22 L293.05 390.57 L293.14 376.19 L293.23 389.23 L293.32 379.60 L293.41 390.88 L293.50 396.25 L293.59 393.22 L293.68 380.00 L293.77 390.37 L293.86 372.68 L293.95 390.12 L294.04 375.58 L294.13 389.25 L294.22 378.59 L294.31 388.57 L294.40 364.80 L294.49 394.52 L294.58 380.60 L294.67 394.52 L294.76 379.05 L294.85 388.38 L294.94 375.28 L295.03 389.49 L295.12 379.63 L295.21 390.41 L295.30 375.24 L295.39 394.59 L295.48 381.17 L295.57 389.27 L295.66 380.07 L295.75 388.51 L295.84 379.42 L295.93 395.00 L296.02 379.38 L296.11 388.35 L296.20 380.52 L296.29 391.91 L296.38 379.91 L296.47 359.00 L296.56 372.75 L296.65 389.19 L296.74 380.92 L296.83 388.83 L296.92 379.10 L297.01 391.54 L297.10 379.26 L297.19 389.49 L297.28 381.23 L297.37 393.21 L297.46 378.27 L297.55 388.85 L297.64 369.99 L297.73 387.44 L297.82 379.43 L297.91 394.61 L298.00 379.93 L298.09 394.04 L298.18 379.04 L298.27 388.13 L298.36 379.61 L298.45 389.03 L298.54 394.40 L298.63 388.02 L298.72 375.15 L298.81 389.06 L298.90 380.51 L298.99 393.02 L299.08 380.82 L299.17 389.50 L299.26 378.70 L299.35 390.57 L299.44 373.61 L299.53 388.37 L299.62 379.04 L299.71 389.17 L299.80 375.87 L299.89 391.87 L299.98 378.97 L300.07 393.31 L300.16 375.60 L300.25 391.41 L300.34 376.69 L300.43 393.20 L300.52 365.00 L300.61 390.42 L300.70 382.19 L300.79 391.86 L300.88 376.21 L300.97 391.86 L301.06 381.67 L301.15 392.24 L301.24 378.07 L301.33 397.02 L301.42 367.52 L301.51 391.58 L301.60 375.18 L301.69 392.12 L301.78 380.87 L301.87 391.70 L301.96 379.14 L302.05 397.89 L302.14 379.57 L302.23 393.66 L302.32 381.52 L302.41 391.83 L302.50 371.97 L302.59 393.36 L302.68 381.41 L302.77 391.85 L302.86 382.34 L302.95 397.74 L303.04 378.52 L303.13 393.55 L303.22 383.06 L303.31 391.99 L303.40 370.47 L303.49 364.40 L303.58 382.25 L303.67 397.18 L303.76 381.75 L303.85 394.14 L303.94 382.43 L304.03 397.79 L304.12 375.33 L304.21 399.55 L304.30 382.13 L304.39 394.32 L304.48 401.25 L304.57 400.60 L304.66 379.15 L304.75 395.12 L304.84 376.78 L304.93 392.98 L305.02 379.54 L305.11 394.47 L305.20 384.50 L305.29 394.43 L305.38 382.38 L305.47 393.04 L305.56 373.86 L305.65 392.58 L305.74 380.94 L305.83 392.26 L305.92 384.55 L306.01 394.12 L306.10 384.44 L306.19 399.50 L306.28 376.70 L306.37 394.07 L306.46 380.78 L306.55 394.77 L306.64 372.87 L306.73 393.07 L306.82 382.95 L306.91 392.57 L307.00 381.55 L307.09 398.17 L307.18 378.62 L307.27 392.68 L307.36 373.27 L307.45 393.50 L307.54 381.74 L307.63 392.67 L307.72 376.56 L307.81 394.17 L307.90 382.10 L307.99 393.81 L308.08 376.85 L308.17 396.40 L308.26 382.64 L308.35 394.19 L308.44 372.04 L308.53 394.38 L308.62 380.41 L308.71 392.39 L308.80 381.89 L308.89 400.08 L308.98 378.39 L309.07 391.92 L309.16 376.36 L309.25 391.93 L309.34 381.64 L309.43 393.17 L309.52 400.00 L309.61 392.82 L309.70 382.23 L309.79 392.85 L309.88 376.23 L309.97 394.26 L310.06 381.83 L310.15 392.82 L310.24 378.29 L310.33 396.36 L310.42 375.39 L310.51 367.00 L310.60 375.19 L310.69 393.07 L310.78 382.20 L310.87 398.53 L310.96 383.16 L311.05 393.15 L311.14 383.36 L311.23 394.32 L311.32 377.78 L311.41 391.92 L311.50 380.89 L311.59 391.74 L311.68 383.80 L311.77 399.15 L311.86 382.28 L311.95 396.52 L312.04 383.28 L312.13 398.84 L312.22 378.40 L312.31 392.34 L312.40 373.51 L312.49 399.68 L312.58 377.59 L312.67 392.50 L312.76 383.81 L312.85 396.68 L312.94 381.93 L313.03 396.98 L313.12 382.18 L313.21 392.83 L313.30 384.21 L313.39 399.03 L313.48 400.00 L313.57 393.19 L313.66 370.75 L313.75 393.85 L313.84 377.07 L313.93 395.73 L314.02 383.57 L314.11 398.00 L314.20 380.57 L314.29 396.33 L314.38 374.08 L314.47 370.00 L314.56 372.52 L314.65 399.76 L314.74 381.51 L314.83 397.38 L314.92 382.77 L315.01 399.07 L315.10 383.78 L315.19 393.52 L315.28 384.37 L315.37 396.84 L315.46 375.50 L315.55 392.51 L315.64 378.28 L315.73 393.10 L315.82 384.02 L315.91 392.73 L316.00 378.61 L316.09 393.14 L316.18 384.82 L316.27 393.57 L316.36 375.22 L316.45 392.81 L316.54 401.25 L316.63 398.34 L316.72 380.56 L316.81 393.99 L316.90 381.41 L316.99 395.15 L317.08 383.86 L317.17 393.14 L317.26 383.89 L317.35 392.87 L317.44 372.53 L317.53 369.40 L317.62 384.09 L317.71 395.73 L317.80 384.88 L317.89 398.92 L317.98 381.14 L318.07 394.63 L318.16 381.84 L318.25 396.27 L318.34 383.81 L318.43 395.29 L318.52 377.17 L318.61 399.59 L318.70 383.86 L318.79 394.35 L318.88 384.38 L318.97 400.30 L319.06 379.83 L319.15 400.63 L319.24 384.30 L319.33 400.12 L319.42 384.77 L319.51 394.26 L319.60 377.73 L319.69 395.96 L319.78 382.50 L319.87 394.32 L319.96 382.22 L320.05 394.05 L320.14 381.70 L320.23 393.62 L320.32 384.19 L320.41 394.51 L320.50 372.47 L320.59 399.77 L320.68 384.11 L320.77 394.33 L320.86 383.58 L320.95 398.40 L321.04 385.12 L321.13 394.69 L321.22 382.12 L321.31 398.10 L321.40 376.25 L321.49 396.31 L321.58 371.24 L321.67 394.53 L321.76 384.17 L321.85 398.36 L321.94 383.82 L322.03 394.17 L322.12 383.23 L322.21 395.95 L322.30 385.23 L322.39 399.28 L322.48 382.16 L322.57 395.78 L322.66 384.98 L322.75 395.52 L322.84 385.58 L322.93 398.18 L323.02 376.96 L323.11 399.95 L323.20 383.16 L323.29 396.23 L323.38 383.22 L323.47 401.25 L323.56 383.96 L323.65 398.01 L323.74 378.32 L323.83 394.63 L323.92 380.18 L324.01 394.56 L324.10 384.67 L324.19 394.94 L324.28 380.08 L324.37 398.02 L324.46 383.80 L324.55 393.58 L324.64 374.60 L324.73 394.05 L324.82 384.16 L324.91 394.13 L325.00 382.84 L325.09 394.75 L325.18 383.05 L325.27 399.75 L325.36 375.11 L325.45 393.84 L325.54 383.68 L325.63 393.52 L325.72 385.25 L325.81 395.18 L325.90 385.28 L325.99 400.08 L326.08 384.95 L326.17 393.35 L326.26 384.90 L326.35 398.18 L326.44 384.00 L326.53 367.25 L326.62 369.74 L326.71 395.28 L326.80 384.54 L326.89 398.86 L326.98 384.58 L327.07 393.22 L327.16 382.78 L327.25 398.71 L327.34 383.39 L327.43 396.02 L327.52 376.05 L327.61 394.85 L327.70 384.57 L327.79 395.09 L327.88 384.01 L327.97 395.32 L328.06 385.02 L328.15 395.33 L328.24 385.39 L328.33 397.44 L328.42 384.12 L328.51 394.08 L328.60 375.66 L328.69 393.75 L328.78 385.59 L328.87 395.70 L328.96 381.51 L329.05 393.55 L329.14 378.60 L329.23 398.83 L329.32 384.39 L329.41 393.89 L329.50 400.60 L329.59 395.56 L329.68 381.49 L329.77 393.74 L329.86 381.65 L329.95 400.61 L330.04 377.86 L330.13 398.69 L330.22 383.73 L330.31 394.13 L330.40 373.60 L330.49 393.46 L330.58 373.48 L330.67 399.59 L330.76 379.46 L330.85 399.43 L330.94 385.50 L331.03 395.38 L331.12 386.05 L331.21 393.31 L331.30 383.81 L331.39 394.29 L331.48 371.25 L331.57 394.55 L331.66 386.95 L331.75 398.13 L331.84 380.26 L331.93 396.03 L332.02 379.70 L332.11 398.97 L332.20 384.29 L332.29 399.04 L332.38 386.86 L332.47 395.70 L332.56 372.73 L332.65 396.65 L332.74 385.53 L332.83 400.95 L332.92 385.85 L333.01 395.83 L333.10 388.24 L333.19 395.81 L333.28 383.83 L333.37 395.48 L333.46 377.45 L333.55 395.41 L333.64 381.62 L333.73 395.70 L333.82 385.94 L333.91 395.59 L334.00 387.45 L334.09 396.04 L334.18 383.97 L334.27 399.59 L334.36 375.41 L334.45 397.85 L334.54 402.50 L334.63 397.35 L334.72 389.14 L334.81 399.06 L334.90 385.27 L334.99 397.09 L335.08 390.62 L335.17 396.85 L335.26 388.86 L335.35 397.73 L335.44 374.15 L335.53 370.00 L335.62 378.08 L335.71 396.62 L335.80 390.05 L335.89 397.15 L335.98 386.21 L336.07 397.26 L336.16 390.87 L336.25 399.86 L336.34 389.88 L336.43 396.80 L336.52 376.40 L336.61 396.13 L336.70 387.26 L336.79 395.93 L336.88 389.35 L336.97 395.40 L337.06 390.32 L337.15 395.89 L337.24 390.66 L337.33 396.22 L337.42 390.35 L337.51 399.00 L337.60 383.86 L337.69 399.17 L337.78 389.41 L337.87 399.15 L337.96 390.44 L338.05 396.58 L338.14 387.28 L338.23 396.12 L338.32 390.82 L338.41 397.79 L338.50 382.62 L338.59 397.91 L338.68 389.77 L338.77 396.58 L338.86 387.61 L338.95 396.49 L339.04 391.12 L339.13 399.65 L339.22 389.66 L339.31 399.97 L339.40 391.67 L339.49 379.50 L339.58 390.92 L339.67 396.79 L339.76 386.39 L339.85 397.62 L339.94 387.39 L340.03 400.12 L340.12 387.84 L340.21 398.51 L340.30 388.43 L340.39 397.59 L340.48 390.14 L340.57 398.54 L340.66 387.70 L340.75 397.93 L340.84 391.73 L340.93 401.87 L341.02 390.14 L341.11 402.38 L341.20 392.32 L341.29 398.77 L341.38 377.05 L341.47 404.00 L341.56 382.90 L341.65 398.24 L341.74 392.32 L341.83 399.72 L341.92 389.55 L342.01 401.15 L342.10 392.52 L342.19 402.94 L342.28 390.96 L342.37 398.30 L342.46 382.61 L342.55 398.95 L342.64 391.89 L342.73 400.72 L342.82 391.28 L342.91 401.41 L343.00 390.82 L343.09 396.95 L343.18 391.15 L343.27 398.05 L343.36 390.74 L343.45 396.87 L343.54 372.60 L343.63 396.31 L343.72 390.80 L343.81 399.43 L343.90 386.63 L343.99 396.81 L344.08 389.66 L344.17 396.41 L344.26 387.41 L344.35 399.74 L344.44 390.80 L344.53 400.00 L344.62 391.10 L344.71 396.83 L344.80 389.52 L344.89 396.10 L344.98 390.34 L345.07 396.60 L345.16 391.01 L345.25 397.29 L345.34 391.20 L345.43 396.18 L345.52 386.73 L345.61 399.39 L345.70 389.35 L345.79 399.68 L345.88 391.28 L345.97 400.41 L346.06 388.19 L346.15 396.86 L346.24 390.28 L346.33 396.95 L346.42 374.59 L346.51 397.27 L346.60 390.46 L346.69 396.43 L346.78 391.18 L346.87 396.33 L346.96 391.45 L347.05 398.94 L347.14 389.38 L347.23 400.83 L347.32 390.61 L347.41 396.88 L347.50 373.25 L347.59 396.98 L347.68 392.14 L347.77 398.20 L347.86 391.98 L347.95 398.44 L348.04 391.06 L348.13 399.62 L348.22 389.32 L348.31 397.08 L348.40 385.67 L348.49 402.00 L348.58 376.92 L348.67 398.21 L348.76 388.66 L348.85 397.69 L348.94 392.26 L349.03 397.92 L349.12 391.65 L349.21 401.19 L349.30 388.13 L349.39 399.81 L349.48 386.23 L349.57 401.61 L349.66 391.58 L349.75 397.15 L349.84 389.50 L349.93 397.95 L350.02 392.25 L350.11 398.86 L350.20 391.93 L350.29 402.07 L350.38 386.10 L350.47 397.38 L350.56 392.18 L350.65 400.99 L350.74 390.16 L350.83 398.36 L350.92 391.02 L351.01 397.59 L351.10 391.52 L351.19 401.57 L351.28 387.45 L351.37 400.12 L351.46 384.50 L351.55 398.53 L351.64 390.28 L351.73 402.11 L351.82 389.68 L351.91 399.33 L352.00 390.16 L352.09 399.61 L352.18 391.44 L352.27 398.54 L352.36 383.55 L352.45 399.43 L352.54 392.63 L352.63 401.26 L352.72 391.67 L352.81 397.97 L352.90 391.87 L352.99 399.53 L353.08 391.96 L353.17 401.41 L353.26 391.76 L353.35 402.05 L353.44 382.65 L353.53 403.25 L353.62 384.08 L353.71 399.24 L353.80 389.92 L353.89 398.46 L353.98 392.09 L354.07 398.92 L354.16 393.01 L354.25 400.51 L354.34 392.49 L354.43 400.38 L354.52 391.36 L354.61 401.22 L354.70 392.41 L354.79 398.43 L354.88 393.03 L354.97 398.69 L355.06 390.86 L355.15 400.04 L355.24 390.03 L355.33 400.04 L355.42 381.60 L355.51 401.64 L355.60 385.26 L355.69 401.18 L355.78 392.38 L355.87 398.43 L355.96 390.03 L356.05 399.28 L356.14 391.56 L356.23 399.16 L356.32 393.07 L356.41 397.78 L356.50 379.85 L356.59 398.39 L356.68 389.68 L356.77 397.73 L356.86 388.63 L356.95 398.35 L357.04 391.58 L357.13 398.59 L357.22 392.78 L357.31 400.05 L357.40 392.22 L357.49 398.50 L357.58 392.68 L357.67 398.95 L357.76 392.56 L357.85 399.15 L357.94 393.17 L358.03 401.91 L358.12 392.14 L358.21 399.36 L358.30 391.25 L358.39 397.90 L358.48 375.00 L358.57 399.29 L358.66 388.51 L358.75 399.08 L358.84 393.26 L358.93 399.85 L359.02 390.72 L359.11 402.55 L359.20 392.19 L359.29 398.76 L359.38 381.23 L359.47 402.60 L359.56 391.67 L359.65 398.04 L359.74 393.29 L359.83 399.48 L359.92 389.94 L360.01 400.87 L360.10 393.06 L360.19 399.67 L360.28 391.75 L360.37 398.64 L360.46 392.72 L360.55 398.71 L360.64 390.83 L360.73 398.71 L360.82 388.29 L360.91 399.95 L361.00 391.50 L361.09 401.67 L361.18 393.77 L361.27 399.13 L361.36 390.89 L361.45 403.12 L361.54 379.50 L361.63 403.07 L361.72 392.86 L361.81 403.74 L361.90 393.35 L361.99 398.77 L362.08 393.02 L362.17 400.05 L362.26 389.46 L362.35 402.96 L362.44 386.84 L362.53 403.02 L362.62 383.53 L362.71 399.49 L362.80 393.85 L362.89 399.72 L362.98 392.94 L363.07 399.74 L363.16 392.82 L363.25 400.85 L363.34 388.89 L363.43 399.88 L363.52 387.25 L363.61 402.95 L363.70 393.17 L363.79 399.77 L363.88 393.75 L363.97 403.99 L364.06 394.09 L364.15 401.79 L364.24 390.79 L364.33 405.17 L364.42 384.70 L364.51 405.75 L364.60 388.50 L364.69 405.54 L364.78 394.04 L364.87 401.56 L364.96 393.55 L365.05 399.98 L365.14 393.11 L365.23 400.09 L365.32 393.81 L365.41 400.46 L365.50 382.60 L365.59 400.45 L365.68 392.05 L365.77 399.86 L365.86 393.14 L365.95 400.85 L366.04 390.95 L366.13 401.50 L366.22 394.53 L366.31 403.31 L366.40 388.50 L366.49 400.66 L366.58 385.14 L366.67 402.57 L366.76 393.28 L366.85 400.46 L366.94 393.93 L367.03 399.57 L367.12 392.81 L367.21 403.94 L367.30 390.52 L367.39 400.06 L367.48 388.72 L367.57 399.65 L367.66 393.65 L367.75 399.41 L367.84 393.53 L367.93 402.60 L368.02 394.37 L368.11 401.01 L368.20 394.90 L368.29 403.27 L368.38 394.67 L368.47 400.03 L368.56 391.32 L368.65 400.87 L368.74 389.73 L368.83 399.43 L368.92 394.73 L369.01 399.72 L369.10 392.96 L369.19 399.54 L369.28 393.35 L369.37 402.07 L369.46 385.75 L369.55 400.48 L369.64 393.29 L369.73 399.82 L369.82 394.24 L369.91 399.03 L370.00 394.44 L370.09 400.34 L370.18 394.65 L370.27 401.61 L370.36 389.30 L370.45 402.94 L370.54 387.54 L370.63 399.80 L370.72 394.82 L370.81 398.76 L370.90 394.27 L370.99 402.34 L371.08 390.63 L371.17 399.71 L371.26 394.85 L371.35 399.07 L371.44 388.68 L371.53 398.80 L371.62 388.85 L371.71 401.99 L371.80 393.36 L371.89 401.21 L371.98 392.76 L372.07 401.71 L372.16 392.67 L372.25 399.92 L372.34 393.44 L372.43 401.22 L372.52 402.60 L372.61 399.33 L372.70 393.44 L372.79 398.80 L372.88 394.85 L372.97 401.19 L373.06 391.98 L373.15 399.81 L373.24 391.48 L373.33 399.96 L373.42 394.36 L373.51 372.00 L373.60 393.67 L373.69 399.91 L373.78 393.76 L373.87 399.02 L373.96 394.23 L374.05 398.79 L374.14 394.71 L374.23 400.78 L374.32 394.23 L374.41 402.03 L374.50 390.85 L374.59 402.39 L374.68 393.89 L374.77 402.08 L374.86 394.32 L374.95 400.70 L375.04 394.76 L375.13 399.91 L375.22 394.40 L375.31 400.05 L375.40 394.47 L375.49 400.06 L375.58 394.07 L375.67 401.68 L375.76 391.60 L375.85 401.09 L375.94 394.50 L376.03 401.73 L376.12 392.65 L376.21 399.86 L376.30 395.06 L376.39 399.79 L376.48 381.40 L376.57 400.13 L376.66 388.33 L376.75 399.61 L376.84 391.73 L376.93 399.89 L377.02 394.85 L377.11 401.91 L377.20 392.95 L377.29 403.08 L377.38 393.82 L377.47 403.25 L377.56 385.65 L377.65 400.72 L377.74 395.33 L377.83 401.76 L377.92 394.41 L378.01 400.51 L378.10 395.32 L378.19 401.26 L378.28 393.33 L378.37 400.46 L378.46 384.74 L378.55 399.68 L378.64 387.94 L378.73 401.85 L378.82 395.63 L378.91 400.82 L379.00 395.91 L379.09 402.85 L379.18 394.84 L379.27 399.86 L379.36 390.12 L379.45 401.06 L379.54 391.87 L379.63 403.37 L379.72 392.11 L379.81 403.51 L379.90 395.77 L379.99 400.95 L380.08 395.36 L380.17 399.84 L380.26 395.12 L380.35 401.60 L380.44 395.86 L380.53 403.10 L380.62 393.46 L380.71 401.28 L380.80 392.53 L380.89 400.94 L380.98 396.22 L381.07 401.21 L381.16 395.43 L381.25 400.58 L381.34 395.82 L381.43 401.37 L381.52 388.25 L381.61 401.41 L381.70 395.02 L381.79 401.54 L381.88 393.74 L381.97 401.19 L382.06 396.14 L382.15 400.71 L382.24 395.37 L382.33 400.67 L382.42 388.41 L382.51 404.50 L382.60 393.92 L382.69 401.66 L382.78 392.58 L382.87 400.79 L382.96 396.49 L383.05 401.09 L383.14 395.80 L383.23 400.21 L383.32 395.02 L383.41 403.00 L383.50 386.82 L383.59 400.90 L383.68 395.83 L383.77 401.01 L383.86 396.18 L383.95 401.57 L384.04 394.34 L384.13 401.51 L384.22 395.83 L384.31 400.75 L384.40 387.63 L384.49 400.12 L384.58 394.30 L384.67 403.04 L384.76 394.70 L384.85 401.64 L384.94 395.35 L385.03 400.26 L385.12 395.52 L385.21 402.75 L385.30 395.69 L385.39 399.50 L385.48 383.25 L385.57 399.73 L385.66 389.07 L385.75 401.74 L385.84 395.68 L385.93 399.34 L386.02 395.46 L386.11 401.77 L386.20 396.28 L386.29 399.06 L386.38 393.96 L386.47 402.00 L386.56 388.14 L386.65 399.14 L386.74 393.83 L386.83 400.00 L386.92 394.39 L387.01 399.32 L387.10 395.72 L387.19 400.80 L387.28 395.52 L387.37 400.14 L387.46 386.40 L387.55 399.60 L387.64 391.55 L387.73 399.69 L387.82 396.56 L387.91 399.95 L388.00 396.97 L388.09 402.09 L388.18 396.46 L388.27 400.16 L388.36 389.43 L388.45 400.54 L388.54 395.71 L388.63 402.80 L388.72 396.15 L388.81 401.39 L388.90 396.96 L388.99 400.98 L389.08 397.16 L389.17 401.30 L389.26 395.30 L389.35 401.30 L389.44 395.99 L389.53 401.93 L389.62 393.79 L389.71 401.43 L389.80 397.47 L389.89 402.17 L389.98 397.06 L390.07 404.27 L390.16 396.19 L390.25 401.48 L390.34 397.76 L390.43 401.94 L390.52 397.64 L390.61 403.26 L390.70 398.00 L390.79 402.00 L390.88 395.35 L390.97 402.51 L391.06 398.04 L391.15 405.04 L391.24 394.19 L391.33 402.50 L391.42 395.61 L391.51 391.40 L391.60 405.75 L391.69 403.31 L391.78 395.26 L391.87 403.13 L391.96 396.23 L392.05 403.76 L392.14 397.39 L392.23 402.05 L392.32 394.97 L392.41 402.76 L392.50 393.57 L392.59 401.96 L392.68 397.53 L392.77 402.33 L392.86 397.83 L392.95 405.56 L393.04 398.48 L393.13 402.23 L393.22 398.08 L393.31 403.36 L393.40 392.98 L393.49 403.59 L393.58 397.55 L393.67 403.72 L393.76 398.16 L393.85 402.91 L393.94 397.82 L394.03 402.53 L394.12 398.39 L394.21 402.66 L394.30 398.53 L394.39 402.11 L394.48 392.60 L394.57 403.31 L394.66 398.11 L394.75 402.28 L394.84 397.33 L394.93 402.67 L395.02 398.39 L395.11 402.52 L395.20 398.95 L395.29 403.50 L395.38 396.16 L395.47 403.54 L395.56 395.64 L395.65 402.21 L395.74 398.07 L395.83 402.94 L395.92 398.98 L396.01 402.41 L396.10 398.90 L396.19 404.13 L396.28 395.72 L396.37 402.52 L396.46 392.35 L396.55 405.11 L396.64 394.45 L396.73 405.01 L396.82 398.21 L396.91 404.24 L397.00 397.02 L397.09 405.36 L397.18 398.06 L397.27 403.25 L397.36 394.46 L397.45 402.55 L397.54 405.75 L397.63 403.31 L397.72 398.31 L397.81 405.01 L397.90 398.26 L397.99 403.86 L398.08 398.38 L398.17 402.70 L398.26 397.86 L398.35 402.63 L398.44 394.69 L398.53 391.40 L398.62 393.96 L398.71 403.46 L398.80 399.10 L398.89 406.05 L398.98 398.83 L399.07 403.18 L399.16 399.55 L399.25 403.78 L399.34 396.59 L399.43 404.72 L399.52 398.55 L399.61 404.92 L399.70 399.49 L399.79 405.05 L399.88 399.28 L399.97 403.30 L400.06 396.97 L400.15 404.01 L400.24 398.77 L400.33 403.07 L400.42 399.60 L400.51 404.14 L400.60 399.61 L400.69 403.51 L400.78 398.82 L400.87 404.01 L400.96 396.53 L401.05 404.05 L401.14 399.85 L401.23 404.00 L401.32 398.68 L401.41 405.37 L401.50 395.99 L401.59 403.60 L401.68 398.26 L401.77 404.32 L401.86 399.82 L401.95 405.55 L402.04 398.35 L402.13 403.77 L402.22 399.29 L402.31 405.21 L402.40 398.27 L402.49 389.00 L402.58 392.86 L402.67 404.03 L402.76 398.56 L402.85 403.83 L402.94 399.74 L403.03 403.52 L403.12 396.53 L403.21 406.77 L403.30 396.67 L403.39 403.73 L403.48 392.18 L403.57 404.61 L403.66 399.37 L403.75 404.05 L403.84 399.86 L403.93 404.68 L404.02 399.53 L404.11 404.83 L404.20 397.01 L404.29 404.99 L404.38 397.62 L404.47 407.60 L404.56 394.27 L404.65 404.20 L404.74 400.05 L404.83 404.41 L404.92 400.22 L405.01 404.16 L405.10 399.80 L405.19 404.61 L405.28 396.59 L405.37 405.19 L405.46 391.49 L405.55 407.17 L405.64 394.61 L405.73 406.97 L405.82 399.28 L405.91 403.87 L406.00 398.58 L406.09 404.61 L406.18 396.65 L406.27 404.29 L406.36 396.26 L406.45 407.09 L406.54 391.40 L406.63 404.53 L406.72 398.72 L406.81 403.87 L406.90 400.13 L406.99 405.42 L407.08 399.97 L407.17 404.61 L407.26 399.75 L407.35 406.64 L407.44 395.60 L407.53 404.72 L407.62 392.55 L407.71 406.14 L407.80 398.64 L407.89 404.09 L407.98 399.75 L408.07 403.56 L408.16 397.52 L408.25 405.50 L408.34 399.87 L408.43 403.91 L408.52 396.31 L408.61 404.35 L408.70 400.52 L408.79 404.46 L408.88 400.07 L408.97 403.55 L409.06 399.70 L409.15 404.21 L409.24 399.30 L409.33 404.79 L409.42 396.88 L409.51 405.41 L409.60 394.69 L409.69 406.37 L409.78 400.46 L409.87 404.29 L409.96 399.87 L410.05 405.44 L410.14 397.19 L410.23 404.38 L410.32 399.55 L410.41 403.69 L410.50 400.31 L410.59 403.75 L410.68 397.86 L410.77 404.80 L410.86 400.26 L410.95 405.77 L411.04 400.42 L411.13 403.72 L411.22 400.07 L411.31 403.28 L411.40 400.11 L411.49 392.60 L411.58 406.40 L411.67 404.34 L411.76 399.73 L411.85 403.69 L411.94 397.25 L412.03 403.51 L412.12 398.36 L412.21 403.59 L412.30 399.52 L412.39 404.11 L412.48 398.40 L412.57 404.25 L412.66 397.18 L412.75 403.47 L412.84 400.27 L412.93 405.32 L413.02 400.14 L413.11 405.26 L413.20 398.74 L413.29 403.73 L413.38 400.49 L413.47 404.10 L413.56 396.86 L413.65 405.95 L413.74 399.62 L413.83 405.04 L413.92 400.40 L414.01 403.72 L414.10 398.35 L414.19 403.59 L414.28 400.11 L414.37 405.54 L414.46 399.76 L414.55 403.77 L414.64 399.93 L414.73 404.07 L414.82 397.96 L414.91 405.91 L415.00 398.50 L415.09 403.77 L415.18 398.93 L415.27 404.68 L415.36 399.06 L415.45 403.54 L415.54 394.50 L415.63 404.08 L415.72 400.08 L415.81 404.44 L415.90 398.94 L415.99 403.78 L416.08 402.56 L416.17 404.99 L416.26 401.25 L416.35 406.13 L416.44 403.01 L416.53 391.25 L416.62 406.40 L416.71 404.74 L416.80 401.98 L416.89 405.15 L416.98 403.11 L417.07 406.19 L417.16 403.09 L417.25 405.47 L417.34 402.87 L417.43 406.86 L417.52 398.27 L417.61 406.99 L417.70 401.82 L417.79 405.24 L417.88 403.18 L417.97 405.41 L418.06 403.28 L418.15 406.72 L418.24 403.44 L418.33 405.40 L418.42 403.42 L418.51 406.01 L418.60 399.57 L418.69 405.75 L418.78 401.87 L418.87 406.20 L418.96 403.42 L419.05 407.10 L419.14 403.29 L419.23 407.48 L419.32 403.02 L419.41 406.18 L419.50 399.85 L419.59 407.86 L419.68 403.92 L419.77 406.03 L419.86 403.12 L419.95 407.19 L420.04 403.93 L420.13 406.20 L420.22 403.73 L420.31 407.37 L420.40 404.20 L420.49 395.60 L420.58 403.29 L420.67 406.75 L420.76 402.46 L420.85 407.01 L420.94 404.56 L421.03 408.81 L421.12 402.98 L421.21 408.19 L421.30 402.61 L421.39 406.82 L421.48 400.60 L421.57 406.95 L421.66 399.72 L421.75 408.05 L421.84 404.83 L421.93 407.80 L422.02 404.64 L422.11 408.70 L422.20 404.77 L422.29 407.58 L422.38 397.84 L422.47 408.53 L422.56 402.12 L422.65 407.71 L422.74 403.11 L422.83 407.57 L422.92 404.84 L423.01 407.32 L423.10 403.10 L423.19 407.18 L423.28 403.16 L423.37 407.32 L423.46 404.09 L423.55 407.79 L423.64 401.84 L423.73 407.83 L423.82 404.10 L423.91 407.85 L424.00 404.86 L424.09 407.24 L424.18 405.17 L424.27 407.30 L424.36 401.05 L424.45 409.13 L424.54 405.06 L424.63 409.00 L424.72 405.00 L424.81 407.50 L424.90 404.71 L424.99 407.75 L425.08 403.93 L425.17 409.38 L425.26 404.61 L425.35 407.92 L425.44 404.66 L425.53 400.60 L425.62 404.24 L425.71 407.69 L425.80 404.77 L425.89 408.63 L425.98 404.97 L426.07 407.84 L426.16 403.49 L426.25 407.65 L426.34 404.69 L426.43 407.54 L426.52 400.86 L426.61 407.57 L426.70 405.44 L426.79 408.71 L426.88 404.01 L426.97 407.98 L427.06 405.03 L427.15 409.11 L427.24 405.43 L427.33 409.01 L427.42 404.20 L427.51 407.79 L427.60 405.06 L427.69 408.08 L427.78 405.51 L427.87 407.45 L427.96 405.35 L428.05 408.38 L428.14 405.64 L428.23 407.87 L428.32 403.82 L428.41 408.97 L428.50 401.65 L428.59 407.76 L428.68 404.25 L428.77 407.59 L428.86 405.63 L428.95 407.89 L429.04 405.32 L429.13 407.94 L429.22 405.79 L429.31 407.71 L429.40 404.92 L429.49 408.35 L429.58 398.82 L429.67 407.99 L429.76 404.76 L429.85 407.72 L429.94 404.65 L430.03 408.16 L430.12 405.72 L430.21 407.53 L430.30 404.71 L430.39 409.10 L430.48 405.78 L430.57 407.67 L430.66 402.68 L430.75 408.11 L430.84 405.70 L430.93 409.28 L431.02 405.77 L431.11 407.92 L431.20 405.03 L431.29 408.03 L431.38 405.55 L431.47 397.25 L431.56 403.13 L431.65 407.63 L431.74 405.86 L431.83 407.79 L431.92 405.98 L432.01 408.76 L432.10 405.15 L432.19 407.78 L432.28 405.71 L432.37 408.00 L432.46 402.31 L432.55 407.92 L432.64 401.91 L432.73 408.15 L432.82 405.37 L432.91 408.81 L433.00 405.01 L433.09 407.88 L433.18 406.05 L433.27 409.16 L433.36 403.28 L433.45 407.97 L433.54 404.11 L433.63 407.63 L433.72 406.10 L433.81 408.98 L433.90 404.90 L433.99 407.92 L434.08 405.81 L434.17 408.16 L434.26 405.53 L434.35 408.21 L434.44 400.89 L434.53 408.07 L434.62 400.67 L434.71 408.09 L434.80 405.94 L434.89 408.14 L434.98 406.13 L435.07 407.93 L435.16 405.81 L435.25 408.01 L435.34 405.10 L435.43 407.86 L435.52 400.60 L435.61 408.09 L435.70 405.39 L435.79 408.09 L435.88 405.97 L435.97 408.75 L436.06 404.67 L436.15 407.99 L436.24 405.64 L436.33 407.82 L436.42 404.61 L436.51 408.97 L436.60 402.57 L436.69 408.36 L436.78 406.23 L436.87 408.23 L436.96 405.69 L437.05 408.08 L437.14 405.77 L437.23 407.93 L437.32 406.12 L437.41 407.90 L437.50 403.06 L437.59 407.82 L437.68 406.14 L437.77 408.18 L437.86 404.79 L437.95 407.81 L438.04 405.96 L438.13 407.88 L438.22 406.05 L438.31 408.45 L438.40 405.87 L438.49 408.51 L438.58 398.81 L438.67 407.82 L438.76 406.33 L438.85 409.05 L438.94 404.89 L439.03 408.97 L439.12 406.08 L439.21 409.24 L439.30 405.83 L439.39 408.45 L439.48 402.47 L439.57 408.23 L439.66 405.88 L439.75 408.16 L439.84 405.28 L439.93 408.11 L440.02 405.47 L440.11 408.84 L440.20 405.92 L440.29 408.25 L440.38 406.45 L440.47 394.40 L440.56 395.97 L440.65 408.72 L440.74 406.06 L440.83 408.38 L440.92 405.31 L441.01 407.88 L441.10 405.33 L441.19 407.84 L441.28 405.61 L441.37 408.13 L441.46 398.32 L441.55 407.94 L441.64 402.55 L441.73 408.64 L441.82 406.42 L441.91 408.63 L442.00 406.37 L442.09 409.01 L442.18 405.59 L442.27 408.12 L442.36 406.12 L442.45 407.99 L442.54 405.88 L442.63 409.08 L442.72 405.71 L442.81 408.45 L442.90 405.70 L442.99 408.12 L443.08 405.44 L443.17 407.97 L443.26 406.27 L443.35 408.48 L443.44 405.09 L443.53 409.31 L443.62 401.11 L443.71 408.01 L443.80 405.54 L443.89 409.07 L443.98 405.81 L444.07 409.31 L444.16 406.31 L444.25 408.93 L444.34 406.48 L444.43 408.30 L444.52 402.80 L444.61 408.17 L444.70 406.12 L444.79 409.38 L444.88 405.44 L444.97 408.16 L445.06 405.95 L445.15 408.41 L445.24 406.52 L445.33 408.02 L445.42 406.54 L445.51 408.13 L445.60 401.80 L445.69 408.46 L445.78 406.34 L445.87 408.48 L445.96 406.78 L446.05 408.65 L446.14 406.13 L446.23 408.48 L446.32 406.58 L446.41 408.71 L446.50 400.60 L446.59 408.16 L446.68 406.51 L446.77 409.25 L446.86 406.60 L446.95 408.29 L447.04 406.48 L447.13 408.70 L447.22 406.39 L447.31 408.79 L447.40 404.30 L447.49 408.54 L447.58 406.53 L447.67 408.28 L447.76 406.61 L447.85 408.63 L447.94 405.94 L448.03 408.49 L448.12 406.56 L448.21 408.39 L448.30 406.48 L448.39 408.24 L448.48 406.68 L448.57 408.39 L448.66 400.66 L448.75 408.45 L448.84 406.48 L448.93 408.32 L449.02 406.70 L449.11 408.60 L449.20 406.63 L449.29 408.68 L449.38 405.14 L449.47 398.00 L449.56 405.62 L449.65 409.54 L449.74 406.19 L449.83 408.49 L449.92 406.52 L450.01 408.54 L450.10 405.77 L450.19 408.53 L450.28 406.74 L450.37 408.51 L450.46 405.36 L450.55 408.59 L450.64 402.62 L450.73 408.69 L450.82 406.53 L450.91 409.54 L451.00 406.62 L451.09 408.57 L451.18 406.94 L451.27 409.45 L451.36 402.66 L451.45 408.36 L451.54 405.47 L451.63 408.46 L451.72 406.35 L451.81 408.37 L451.90 406.25 L451.99 408.40 L452.08 406.34 L452.17 408.74 L452.26 406.74 L452.35 409.01 L452.44 405.77 L452.53 409.18 L452.62 403.61 L452.71 408.49 L452.80 406.91 L452.89 409.58 L452.98 406.76 L453.07 408.62 L453.16 406.87 L453.25 408.79 L453.34 406.57 L453.43 409.37 L453.52 405.00 L453.61 408.74 L453.70 405.87 L453.79 409.50 L453.88 407.13 L453.97 408.80 L454.06 406.63 L454.15 408.78 L454.24 406.45 L454.33 408.80 L454.42 405.76 L454.51 408.65 L454.60 405.46 L454.69 408.54 L454.78 406.51 L454.87 409.26 L454.96 406.34 L455.05 408.42 L455.14 406.98 L455.23 409.11 L455.32 406.04 L455.41 408.55 L455.50 405.53 L455.59 408.52 L455.68 406.33 L455.77 408.64 L455.86 407.21 L455.95 409.44 L456.04 407.16 L456.13 408.90 L456.22 407.09 L456.31 408.64 L456.40 407.12 L456.49 408.63 L456.58 405.24 L456.67 408.67 L456.76 407.11 L456.85 408.67 L456.94 406.17 L457.03 408.63 L457.12 407.19 L457.21 408.59 L457.30 407.28 L457.39 408.94 L457.48 405.88 L457.57 408.94 L457.66 407.01 L457.75 408.61 L457.84 406.87 L457.93 408.57 L458.02 406.80 L458.11 409.60 L458.20 407.26 L458.29 408.72 L458.38 405.50 L458.47 408.77 L458.56 407.15 L458.65 408.57 L458.74 407.25 L458.83 409.61 L458.92 406.88 L459.01 408.86 L459.10 407.37 L459.19 408.90 L459.28 407.37 L459.37 408.69 L459.46 406.75 L459.55 408.80 L459.64 405.79 L459.73 409.23 L459.82 406.81 L459.91 408.74 L460.00 407.24 L460.09 409.50 L460.18 407.30 L460.27 408.63 L460.36 407.23 L460.45 408.61 L460.54 406.43 L460.63 409.83 L460.72 406.21 L460.81 408.87 L460.90 407.31 L460.99 409.10 L461.08 407.51 L461.17 409.41 L461.26 406.62 L461.35 409.73 L461.44 405.44 L461.53 408.74 L461.62 407.44 L461.71 408.73 L461.80 407.40 L461.89 409.00 L461.98 406.45 L462.07 408.92 L462.16 407.44 L462.25 408.94 L462.34 406.68 L462.43 408.92 L462.52 407.36 L462.61 408.82 L462.70 407.18 L462.79 409.53 L462.88 406.68 L462.97 408.83 L463.06 407.38 L463.15 409.01 L463.24 407.53 L463.33 409.50 L463.42 406.80 L463.51 404.75 L463.60 407.56 L463.69 408.82 L463.78 407.27 L463.87 409.14 L463.96 407.12 L464.05 409.14 L464.14 407.43 L464.23 409.19 L464.32 407.52 L464.41 409.00 L464.50 407.26 L464.59 408.81 L464.68 407.01 L464.77 409.61 L464.86 407.13 L464.95 408.78 L465.04 406.47 L465.13 409.12 L465.22 407.55 L465.31 408.79 L465.40 406.13 L465.49 409.87 L465.58 405.00 L465.67 409.45 L465.76 407.05 L465.85 409.06 L465.94 407.50 L466.03 408.80 L466.12 407.57 L466.21 409.21 L466.30 406.57 L466.39 409.84 L466.48 406.03 L466.57 409.30 L466.66 407.35 L466.75 409.21 L466.84 407.53 L466.93 409.07 L467.02 407.65 L467.11 409.21 L467.20 407.14 L467.29 409.76 L467.38 406.17 L467.47 404.75 L467.56 405.72 L467.65 409.11 L467.74 406.65 L467.83 408.90 L467.92 407.59 L468.01 409.76 L468.10 407.25 L468.19 409.58 L468.28 407.13 L468.37 409.24 L468.46 407.10 L468.55 408.96 L468.64 406.21 L468.73 409.30 L468.82 406.62 L468.91 409.85 L469.00 407.64 L469.09 409.24 L469.18 407.11 L469.27 409.07 L469.36 407.20 L469.45 409.04 L469.54 405.87 L469.63 408.98 L469.72 407.67 L469.81 409.34 L469.90 407.50 L469.99 409.95 L470.08 407.04 L470.17 408.94 L470.26 407.80 L470.35 408.97 L470.44 406.61 L470.53 409.50 L470.62 407.09 L470.71 409.91 L470.80 407.52 L470.89 410.01 L470.98 407.46 L471.07 409.13 L471.16 407.66 L471.25 409.07 L471.34 407.51 L471.43 409.55 L471.52 405.16 L471.61 409.35 L471.70 407.85 L471.79 409.33 L471.88 407.38 L471.97 409.20 L472.06 407.98 L472.15 409.23 L472.24 407.18 L472.33 409.35 L472.42 407.90 L472.51 405.00 L472.60 407.53 L472.69 409.06 L472.78 407.82 L472.87 409.85 L472.96 407.90 L473.05 409.30 L473.14 407.41 L473.23 409.29 L473.32 407.38 L473.41 410.14 L473.50 407.37 L473.59 409.06 L473.68 407.86 L473.77 410.06 L473.86 407.85 L473.95 409.80 L474.04 407.71 L474.13 409.11 L474.22 407.72 L474.31 409.42 L474.40 406.52 L474.49 409.29 L474.58 407.86 L474.67 410.00 L474.76 407.03 L474.85 409.16 L474.94 407.49 L475.03 409.38 L475.12 408.06 L475.21 409.30 L475.30 408.06 L475.39 409.07 L475.48 407.24 L475.57 409.14 L475.66 407.04 L475.75 409.34 L475.84 407.88 L475.93 409.45 L476.02 407.29 L476.11 409.98 L476.20 407.83 L476.29 409.16 L476.38 407.99 L476.47 409.41 L476.56 406.90 L476.65 409.22 L476.74 407.36 L476.83 409.23 L476.92 408.11 L477.01 409.49 L477.10 407.65 L477.19 409.23 L477.28 407.86 L477.37 409.41 L477.46 405.25 L477.55 410.17 L477.64 407.85 L477.73 409.48 L477.82 407.05 L477.91 409.31 L478.00 407.89 L478.09 410.07 L478.18 407.96 L478.27 409.20 L478.36 405.55 L478.45 409.46 L478.54 407.25 L478.63 409.39 L478.72 408.10 L478.81 409.22 L478.90 407.95 L478.99 409.73 L479.08 407.50 L479.17 409.26 L479.26 407.63 L479.35 409.53 L479.44 405.99 L479.53 410.07 L479.62 407.72 L479.71 409.54 L479.80 407.65 L479.89 409.54 L479.98 407.83 L480.07 410.23 L480.16 407.86 L480.25 409.66 L480.34 408.17 L480.43 409.91 L480.52 407.61 L480.61 409.56 L480.70 407.64 L480.79 410.12 L480.88 408.29 L480.97 409.37 L481.06 407.32 L481.15 409.46 L481.24 408.26 L481.33 409.27 L481.42 406.53 L481.51 409.31 L481.60 408.21 L481.69 409.55 L481.78 408.34 L481.87 409.57 L481.96 408.21 L482.05 409.51 L482.14 407.50 L482.23 409.71 L482.32 407.45 L482.41 409.66 L482.50 404.75 L482.59 410.32 L482.68 407.81 L482.77 409.43 L482.86 408.41 L482.95 409.98 L483.04 408.38 L483.13 409.53 L483.22 408.43 L483.31 410.30 L483.40 406.25 L483.49 409.77 L483.58 407.34 L483.67 410.15 L483.76 408.25 L483.85 409.69 L483.94 408.15 L484.03 409.91 L484.12 408.45 L484.21 409.39 L484.30 407.44 L484.39 409.57 L484.48 407.81 L484.57 409.56 L484.66 406.96 L484.75 409.41 L484.84 407.77 L484.93 410.20 L485.02 408.06 L485.11 409.47 L485.20 408.23 L485.29 409.77 L485.38 407.26 L485.47 409.44 L485.56 405.74 L485.65 409.73 L485.74 408.41 L485.83 409.51 L485.92 408.02 L486.01 409.60 L486.10 407.82 L486.19 409.69 L486.28 408.14 L486.37 409.60 L486.46 406.34 L486.55 409.72 L486.64 407.99 L486.73 409.57 L486.82 407.52 L486.91 410.17 L487.00 408.32 L487.09 409.77 L487.18 408.19 L487.27 409.47 L487.36 406.78 L487.45 409.72 L487.54 407.35 L487.63 410.17 L487.72 408.30 L487.81 410.29 L487.90 408.53 L487.99 410.14 L488.08 408.15 L488.17 409.71 L488.26 408.53 L488.35 409.48 L488.44 408.29 L488.53 405.60 L488.62 408.46 L488.71 410.24 L488.80 408.09 L488.89 409.69 L488.98 407.91 L489.07 409.59 L489.16 408.04 L489.25 409.75 L489.34 408.55 L489.43 410.39 L489.52 406.28 L489.61 410.16 L489.70 408.51 L489.79 409.82 L489.88 408.62 L489.97 409.74 L490.06 408.52 L490.15 409.55 L490.24 408.52 L490.33 410.41 L490.42 407.44 L490.51 409.80 L490.60 406.72 L490.69 410.18 L490.78 408.54 L490.87 409.63 L490.96 408.50 L491.05 409.88 L491.14 408.68 L491.23 409.68 L491.32 408.60 L491.41 410.24 L491.50 408.75 L491.59 409.72 L491.68 407.89 L491.77 410.46 L491.86 407.98 L491.95 410.47 L492.04 408.40 L492.13 409.63 L492.22 408.72 L492.31 409.87 L492.40 408.70 L492.49 409.88 L492.58 408.29 L492.67 410.49 L492.76 408.58 L492.85 409.84 L492.94 408.33 L493.03 409.77 L493.12 408.74 L493.21 409.91 L493.30 408.35 L493.39 410.53 L493.48 408.75 L493.57 409.74 L493.66 408.78 L493.75 410.11 L493.84 408.43 L493.93 409.94 L494.02 408.39 L494.11 409.66 L494.20 408.06 L494.29 409.74 L494.38 407.91 L494.47 408.00 L494.56 408.85 L494.65 409.77 L494.74 408.80 L494.83 409.81 L494.92 408.39 L495.01 409.82 L495.10 408.84 L495.19 409.99 L495.28 408.20 L495.37 409.83 L495.46 408.21 L495.55 409.86 L495.64 407.94 L495.73 410.35 L495.82 408.49 L495.91 410.46 L496.00 408.32 L496.09 409.84 L496.18 408.85 L496.27 409.83 L496.36 408.73 L496.45 410.37 L496.54 408.62 L496.63 410.49 L496.72 408.16 L496.81 410.10 L496.90 408.84 L496.99 410.53 L497.08 408.07 L497.17 409.83 L497.26 408.56 L497.35 410.16 L497.44 407.81 L497.53 409.92 L497.62 408.91 L497.71 410.04 L497.80 408.48 L497.89 409.80 L497.98 408.24 L498.07 410.03 L498.16 408.58 L498.25 409.93 L498.34 408.92 L498.43 409.84 L498.52 407.44 L498.61 409.87 L498.70 408.64 L498.79 409.75 L498.88 408.56 L498.97 410.12 L499.06 408.78 L499.15 410.60 L499.24 408.54 L499.33 410.54 L499.42 408.23 L499.51 409.85 L499.60 408.97 L499.69 409.98 L499.78 408.76 L499.87 410.10 L499.96 408.89 L500.05 410.46 L500.14 408.45 L500.23 409.94 L500.32 408.14 L500.41 410.01 L500.50 408.58 L500.59 409.89 L500.68 409.00 L500.77 409.86 L500.86 408.80 L500.95 409.87 L501.04 408.91 L501.13 409.90 L501.22 408.79 L501.31 409.95 L501.40 407.91 L501.49 410.36 L501.58 409.00 L501.67 410.37 L501.76 408.70 L501.85 409.93 L501.94 408.97 L502.03 409.97 L502.12 409.01 L502.21 409.94 L502.30 409.01 L502.39 410.02 L502.48 408.15 L502.57 409.84 L502.66 409.06 L502.75 410.24 L502.84 408.84 L502.93 410.14 L503.02 408.93 L503.11 409.91 L503.20 408.64 L503.29 409.82 L503.38 407.80 L503.47 409.94 L503.56 409.01 L503.65 410.22 L503.74 409.00 L503.83 410.36 L503.92 409.05 L504.01 409.90 L504.10 408.96 L504.19 410.24 L504.28 409.01 L504.37 409.88 L504.46 409.04 L504.55 410.03 L504.64 408.54 L504.73 410.24 L504.82 408.95 L504.91 409.88 L505.00 409.10 L505.09 409.89 L505.18 408.94 L505.27 409.86 L505.36 407.94 L505.45 409.98 L505.54 407.78 L505.63 410.07 L505.72 408.91 L505.81 409.94 L505.90 408.99 L505.99 410.24 L506.08 409.08 L506.17 410.16 L506.26 408.91 L506.35 409.98 L506.44 408.30 L506.53 410.04 L506.62 408.87 L506.71 410.02 L506.80 408.89 L506.89 410.52 L506.98 408.71 L507.07 410.01 L507.16 409.03 L507.25 410.17 L507.34 409.08 L507.43 409.98 L507.52 408.72 L507.61 409.89 L507.70 408.97 L507.79 410.01 L507.88 409.02 L507.97 410.07 L508.06 409.10 L508.15 409.84 L508.24 409.15 L508.33 409.99 L508.42 407.88 L508.51 410.08 L508.60 408.91 L508.69 410.42 L508.78 409.14 L508.87 409.85 L508.96 409.03 L509.05 409.85 L509.14 408.98 L509.23 410.01 L509.32 408.62 L509.41 410.00 L509.50 409.12 L509.59 409.98 L509.68 408.39 L509.77 409.98 L509.86 409.03 L509.95 410.02 L510.04 409.07 L510.13 410.04 L510.22 409.16 L510.31 410.06 L510.40 409.06 L510.49 410.08 L510.58 408.96 L510.67 410.06 L510.76 408.75 L510.85 410.30 L510.94 409.10 L511.03 409.96 L511.12 408.91 L511.21 410.34 L511.30 409.10 L511.39 410.58 L511.48 407.29 L511.57 410.46 L511.66 408.62 L511.75 410.44 L511.84 409.09 L511.93 410.58 L512.02 408.58 L512.11 410.47 L512.20 408.77 L512.29 409.89 L512.38 407.99 L512.47 410.47 L512.56 408.56 L512.65 410.06 L512.74 409.05 L512.83 410.22 L512.92 409.11 L513.01 409.89 L513.10 409.13 L513.19 409.98 L513.28 409.22 L513.37 410.01 L513.46 409.15 L513.55 410.44 L513.64 408.30 L513.73 410.12 L513.82 408.88 L513.91 410.26 L514.00 409.15 L514.09 410.28 L514.18 408.64 L514.27 410.37 L514.36 408.77 L514.45 409.90 L514.54 408.46 L514.63 409.94 L514.72 408.94 L514.81 409.92 L514.90 409.19 L514.99 410.09 L515.08 409.26 L515.17 410.02 L515.26 409.09 L515.35 410.46 L515.44 407.51 L515.53 410.09 L515.62 409.04 L515.71 410.05 L515.80 408.85 L515.89 410.29 L515.98 409.06 L516.07 410.53 L516.16 408.79 L516.25 410.21 L516.34 409.28 L516.43 410.00 L516.52 407.72 L516.61 410.04 L516.70 409.06 L516.79 410.00 L516.88 409.12 L516.97 409.93 L517.06 408.63 L517.15 410.12 L517.24 409.23 L517.33 410.47 L517.42 408.03 L517.51 409.95 L517.60 408.18 L517.69 410.01 L517.78 409.08 L517.87 410.10 L517.96 409.28 L518.05 410.13 L518.14 409.13 L518.23 409.99 L518.32 409.23 L518.41 410.07 L518.50 408.25 L518.59 410.42 L518.68 409.15 L518.77 409.98 L518.86 409.15 L518.95 410.33 L519.04 408.79 L519.13 410.47 L519.22 408.79 L519.31 410.00 L519.40 408.45 L519.49 410.14 L519.58 408.38 L519.67 410.14 L519.76 409.26 L519.85 410.52 L519.94 409.09 L520.03 410.05 L520.12 409.10 L520.21 410.13 L520.30 409.16 L520.39 410.03 L520.48 408.15 L520.57 410.04 L520.66 408.54 L520.75 410.26 L520.84 409.14 L520.93 410.06 L521.02 409.13 L521.11 410.25 L521.20 408.98 L521.29 410.09 L521.38 409.21 L521.47 410.02 L521.56 407.75 L521.65 410.09 L521.74 409.26 L521.83 410.10 L521.92 409.34 L522.01 410.13 L522.10 409.21 L522.19 410.34 L522.28 408.73 L522.37 410.55 L522.46 407.67 L522.55 410.03 L522.64 408.46 L522.73 409.93 L522.82 409.24 L522.91 409.96 L523.00 409.31 L523.09 410.11 L523.18 409.10 L523.27 410.56 L523.36 408.42 L523.45 410.15 L523.54 408.48 L523.63 409.97 L523.72 408.76 L523.81 410.30 L523.90 409.03 L523.99 410.08 L524.08 409.22 L524.17 410.32 L524.26 409.23 L524.35 409.95 L524.44 409.23 L524.53 410.49 L524.62 407.43 L524.71 409.95 L524.80 408.87 L524.89 410.48 L524.98 408.82 L525.07 410.07 L525.16 409.12 L525.25 409.96 L525.34 408.90 L525.43 410.46 L525.52 408.40 L525.61 410.44 L525.70 409.35 L525.79 410.58 L525.88 409.21 L525.97 410.25 L526.06 409.30 L526.15 410.03 L526.24 409.16 L526.33 410.03 L526.42 409.19 L526.51 409.99 L526.60 408.26 L526.69 410.22 L526.78 409.26 L526.87 410.17 L526.96 409.28 L527.05 410.01 L527.14 409.27 L527.23 410.14 L527.32 409.32 L527.41 410.27 L527.50 408.81 L527.59 410.31 L527.68 409.02 L527.77 410.07 L527.86 409.28 L527.95 410.18 L528.04 409.25 L528.13 410.37 L528.22 409.11 L528.31 410.51 L528.40 409.25 L528.49 410.17 L528.58 408.78 L528.67 410.58 L528.76 408.81 L528.85 410.10 L528.94 409.26 L529.03 409.97 L529.12 409.23 L529.21 410.12 L529.30 409.19 L529.39 410.17 L529.48 408.02 L529.57 410.05 L529.66 409.27 L529.75 409.96 L529.84 409.35 L529.93 410.09 L530.02 408.81 L530.11 410.44 L530.20 409.40 L530.29 409.98 L530.38 408.24 L530.47 410.30 L530.56 407.69 L530.65 410.32 L530.74 408.96 L530.83 410.08 L530.92 409.41 L531.01 410.31 L531.10 408.98 L531.19 410.22 L531.28 409.21 L531.37 410.14 L531.46 407.63 L531.55 410.01 L531.64 408.84 L531.73 410.03 L531.82 409.25 L531.91 410.23 L532.00 409.38 L532.09 410.29 L532.18 409.15 L532.27 410.32 L532.36 407.47 L532.45 410.14 L532.54 409.40 L532.63 410.37 L532.72 409.41 L532.81 410.32 L532.90 409.05 L532.99 410.45 L533.08 408.88 L533.17 410.10 L533.26 409.38 L533.35 410.12 L533.44 409.29 L533.53 410.14 L533.62 409.35 L533.71 409.98 L533.80 409.24 L533.89 410.39 L533.98 409.44 L534.07 410.27 L534.16 409.27 L534.25 410.19 L534.34 409.12 L534.43 409.99 L534.52 408.75 L534.61 410.17 L534.70 409.05 L534.79 410.08 L534.88 409.37 L534.97 410.16 L535.06 408.90 L535.15 410.03 L535.24 409.26 L535.33 410.08 L535.42 409.38 L535.51 410.33 L535.60 409.34 L535.69 410.36 L535.78 409.26 L535.87 410.16 L535.96 409.18 L536.05 410.16 L536.14 409.33 L536.23 410.13 L536.32 409.44 L536.41 410.11 L536.50 409.43 L536.59 410.01 L536.68 409.25 L536.77 410.13 L536.86 409.46 L536.95 410.24 L537.04 408.97 L537.13 410.45 L537.22 409.37 L537.31 410.12 L537.40 409.02 L537.49 410.08 L537.58 408.82 L537.67 410.03 L537.76 409.32 L537.85 410.08 L537.94 409.45 L538.03 410.21 L538.12 409.06 L538.21 410.51 L538.30 409.29 L538.39 410.00 L538.48 408.32 L538.57 410.06 L538.66 409.40 L538.75 410.01 L538.84 409.21 L538.93 410.19 L539.02 408.89 L539.11 410.40 L539.20 409.48 L539.29 410.18 L539.38 408.35 L539.47 410.07 L539.56 409.27 L539.65 410.02 L539.74 409.37 L539.83 410.01 L539.92 409.10 L540.01 410.08 L540.10 409.49 L540.19 410.10 L540.28 408.85 L540.37 410.02 L540.46 409.45 L540.55 410.16 L540.64 408.93 L540.73 410.20 L540.82 409.42 L540.91 410.55 L541.00 409.19 L541.09 410.26 L541.18 409.34 L541.27 410.14 L541.36 409.20 L541.45 410.06 L541.54 409.45 L541.63 410.19 L541.72 409.41 L541.81 410.19 L541.90 409.50 L541.99 410.03 L542.08 409.36 L542.17 410.20 L542.26 409.45 L542.35 410.02 L542.44 408.82 L542.53 410.19 L542.62 408.56 L542.71 410.11 L542.80 409.32 L542.89 410.04 L542.98 409.50 L543.07 410.05 L543.16 409.49 L543.25 410.18 L543.34 409.05 L543.43 410.54 L543.52 409.37 L543.61 410.06 L543.70 409.02 L543.79 410.09 L543.88 408.92 L543.97 410.20 L544.06 409.51 L544.15 410.10 L544.24 409.38 L544.33 410.12 L544.42 409.45 L544.51 410.14 L544.60 409.52 L544.69 410.52 L544.78 409.27 L544.87 410.58 L544.96 409.16 L545.05 410.08 L545.14 409.46 L545.23 410.08 L545.32 409.25 L545.41 410.13 L545.50 407.88 L545.59 410.17 L545.68 408.93 L545.77 410.11 L545.86 409.22 L545.95 410.50 L546.04 409.47 L546.13 410.08 L546.22 409.36 L546.31 410.43 L546.40 409.53 L546.49 410.18 L546.58 407.91 L546.67 410.18 L546.76 409.42 L546.85 410.18 L546.94 409.45 L547.03 410.22 L547.12 409.43 L547.21 410.14 L547.30 409.17 L547.39 410.22 L547.48 408.46 L547.57 410.36 L547.66 408.84 L547.75 410.10 L547.84 409.53 L547.93 410.52 L548.02 409.32 L548.11 410.07 L548.20 409.48 L548.29 410.25 L548.38 408.63 L548.47 410.21 L548.56 409.09 L548.65 410.14 L548.74 409.44 L548.83 410.25 L548.92 409.32 L549.01 410.10 L549.10 409.50 L549.19 410.41 L549.28 408.98 L549.37 410.12 L549.46 409.51 L549.55 410.10 L549.64 409.53 L549.73 410.16 L549.82 409.28 L549.91 410.24 L550.00 409.14 L550.09 410.08 L550.18 409.53 L550.27 410.21 L550.36 408.90 L550.45 410.14 L550.54 409.50 L550.63 410.15 L550.72 409.02 L550.81 410.06 L550.90 409.36 L550.99 410.12 L551.08 409.03 L551.17 410.06 L551.26 409.20 L551.35 410.19 L551.44 408.48 L551.53 410.23 L551.62 409.24 L551.71 410.16 L551.80 409.26 L551.89 410.13 L551.98 409.38 L552.07 410.16 L552.16 409.41 L552.25 410.19 L552.34 409.33 L552.43 410.31 L552.52 409.40 L552.61 410.40 L552.70 409.57 L552.79 410.14 L552.88 409.40 L552.97 410.26 L553.06 409.48 L553.15 410.14 L553.24 409.56 L553.33 410.12 L553.42 409.51 L553.45 409.50" fill="none" stroke="#1f77b4" stroke-width="0.76" stroke-linejoin="round" stroke-linecap="round"/>
<text x="327.65" y="49.27" text-anchor="middle" transform="translate(0 49.4) scale(1 1.07) translate(0 -49.4)" style="font-size:16.667px">PoseC3D Loss</text>
<g>
<rect x="492.5" y="65.5" width="77" height="25" rx="2.78" ry="2.78" fill="#eaeaf2" fill-opacity="0.8" stroke="#cccccc" stroke-opacity="0.8" stroke-width="1.389"/>
<path d="M498.27 76.5 L526.73 76.5" fill="none" stroke="#1f77b4" stroke-width="0.694"/>
<text x="536.45" y="80.65" letter-spacing="-0.3">loss</text>
</g>
</svg>
</body>
</html>
